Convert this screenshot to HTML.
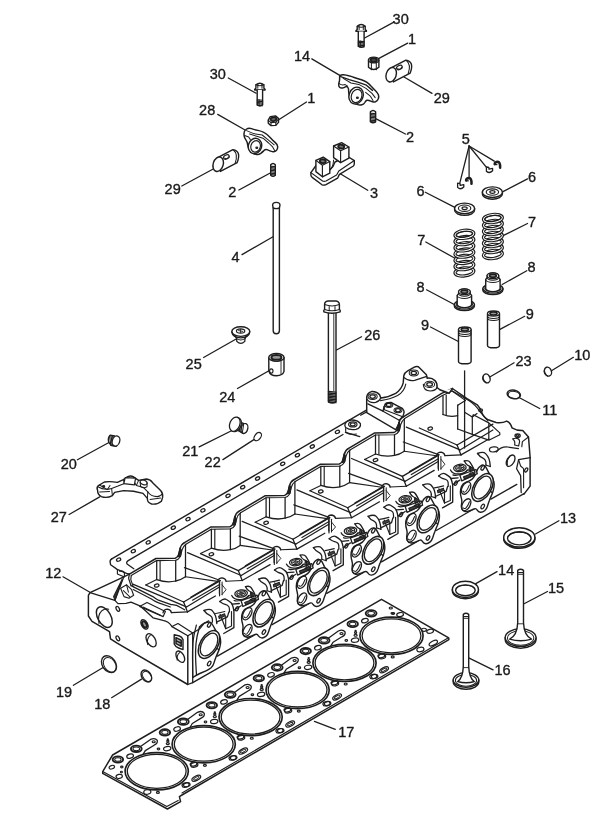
<!DOCTYPE html>
<html><head><meta charset="utf-8"><title>Cylinder head</title>
<style>
html,body{margin:0;padding:0;background:#fff;}
svg{display:block;will-change:transform;transform:translateZ(0);}
text{font-family:"Liberation Sans",sans-serif;font-size:14.5px;fill:#1a1a1a;stroke:#1a1a1a;stroke-width:0.35px;}
</style></head><body>
<svg width="603" height="823" viewBox="0 0 603 823" stroke-linecap="round" stroke-linejoin="round">
<rect width="603" height="823" fill="#fff"/>
<g opacity="0.999">
<text x="392.6" y="24.0">30</text>
<text x="408.0" y="43.9">1</text>
<text x="294.0" y="60.7">14</text>
<text x="433.8" y="102.6">29</text>
<text x="405.9" y="142.4">2</text>
<text x="209.7" y="79.0">30</text>
<text x="199.1" y="115.3">28</text>
<text x="307.2" y="102.6">1</text>
<text x="164.6" y="194.4">29</text>
<text x="228.2" y="197.1">2</text>
<text x="370.1" y="198.1">3</text>
<text x="416.6" y="196.1">6</text>
<text x="417.2" y="245.1">7</text>
<text x="461.7" y="143.5">5</text>
<text x="528.0" y="182.0">6</text>
<text x="528.0" y="226.6">7</text>
<text x="527.4" y="272.4">8</text>
<text x="416.4" y="292.1">8</text>
<text x="525.8" y="318.6">9</text>
<text x="421.0" y="330.0">9</text>
<text x="515.4" y="365.8">23</text>
<text x="574.2" y="359.8">10</text>
<text x="542.3" y="415.4">11</text>
<text x="231.4" y="262.1">4</text>
<text x="364.2" y="339.6">26</text>
<text x="185.6" y="369.4">25</text>
<text x="219.2" y="401.5">24</text>
<text x="182.2" y="455.8">21</text>
<text x="204.6" y="466.6">22</text>
<text x="60.7" y="468.8">20</text>
<text x="50.8" y="521.9">27</text>
<text x="45.3" y="578.0">12</text>
<text x="559.9" y="523.0">13</text>
<text x="498.1" y="574.7">14</text>
<text x="548.0" y="593.3">15</text>
<text x="494.4" y="674.7">16</text>
<text x="56.0" y="696.8">19</text>
<text x="94.2" y="708.5">18</text>
<text x="338.2" y="736.7">17</text>
</g>
<line x1="363.7" y1="38.5" x2="393.4" y2="22.4" stroke="#1e1e1e" stroke-width="1.28"/>
<line x1="378.0" y1="58.9" x2="407.7" y2="43.1" stroke="#1e1e1e" stroke-width="1.28"/>
<line x1="311.8" y1="58.9" x2="347.0" y2="79.6" stroke="#1e1e1e" stroke-width="1.28"/>
<line x1="404.0" y1="77.0" x2="432.0" y2="93.4" stroke="#1e1e1e" stroke-width="1.28"/>
<line x1="376.2" y1="118.9" x2="405.4" y2="134.0" stroke="#1e1e1e" stroke-width="1.28"/>
<line x1="228.3" y1="78.0" x2="256.1" y2="93.2" stroke="#1e1e1e" stroke-width="1.28"/>
<line x1="217.7" y1="114.4" x2="245.5" y2="130.3" stroke="#1e1e1e" stroke-width="1.28"/>
<line x1="278.7" y1="119.7" x2="306.5" y2="102.0" stroke="#1e1e1e" stroke-width="1.28"/>
<line x1="181.8" y1="186.0" x2="213.7" y2="168.8" stroke="#1e1e1e" stroke-width="1.28"/>
<line x1="270.7" y1="172.8" x2="238.9" y2="190.0" stroke="#1e1e1e" stroke-width="1.28"/>
<line x1="339.0" y1="173.0" x2="367.7" y2="190.3" stroke="#1e1e1e" stroke-width="1.28"/>
<line x1="425.3" y1="192.2" x2="455.3" y2="207.6" stroke="#1e1e1e" stroke-width="1.28"/>
<line x1="425.8" y1="242.0" x2="454.5" y2="258.0" stroke="#1e1e1e" stroke-width="1.28"/>
<line x1="469.1" y1="146.0" x2="459.8" y2="183.1" stroke="#1e1e1e" stroke-width="1.28"/>
<line x1="469.1" y1="146.0" x2="469.1" y2="177.0" stroke="#1e1e1e" stroke-width="1.28"/>
<line x1="469.1" y1="146.0" x2="486.3" y2="167.2" stroke="#1e1e1e" stroke-width="1.28"/>
<line x1="469.1" y1="146.0" x2="494.3" y2="161.1" stroke="#1e1e1e" stroke-width="1.28"/>
<line x1="503.0" y1="191.6" x2="527.5" y2="178.9" stroke="#1e1e1e" stroke-width="1.28"/>
<line x1="503.6" y1="235.4" x2="527.5" y2="223.5" stroke="#1e1e1e" stroke-width="1.28"/>
<line x1="502.2" y1="284.5" x2="526.8" y2="270.7" stroke="#1e1e1e" stroke-width="1.28"/>
<line x1="426.5" y1="289.8" x2="455.7" y2="305.2" stroke="#1e1e1e" stroke-width="1.28"/>
<line x1="499.5" y1="329.6" x2="524.7" y2="316.3" stroke="#1e1e1e" stroke-width="1.28"/>
<line x1="430.5" y1="327.0" x2="458.4" y2="341.5" stroke="#1e1e1e" stroke-width="1.28"/>
<line x1="490.2" y1="376.8" x2="514.1" y2="362.8" stroke="#1e1e1e" stroke-width="1.28"/>
<line x1="551.5" y1="370.8" x2="573.4" y2="357.3" stroke="#1e1e1e" stroke-width="1.28"/>
<line x1="519.5" y1="397.7" x2="539.7" y2="408.5" stroke="#1e1e1e" stroke-width="1.28"/>
<line x1="242.0" y1="254.6" x2="273.0" y2="236.8" stroke="#1e1e1e" stroke-width="1.28"/>
<line x1="336.0" y1="350.2" x2="361.5" y2="336.7" stroke="#1e1e1e" stroke-width="1.28"/>
<line x1="203.6" y1="357.5" x2="235.7" y2="339.3" stroke="#1e1e1e" stroke-width="1.28"/>
<line x1="237.5" y1="388.5" x2="268.5" y2="371.0" stroke="#1e1e1e" stroke-width="1.28"/>
<line x1="199.2" y1="446.9" x2="232.0" y2="430.5" stroke="#1e1e1e" stroke-width="1.28"/>
<line x1="222.9" y1="459.6" x2="253.9" y2="439.6" stroke="#1e1e1e" stroke-width="1.28"/>
<line x1="77.4" y1="459.8" x2="108.9" y2="442.5" stroke="#1e1e1e" stroke-width="1.28"/>
<line x1="69.1" y1="514.5" x2="99.7" y2="496.9" stroke="#1e1e1e" stroke-width="1.28"/>
<line x1="63.0" y1="576.8" x2="89.5" y2="592.0" stroke="#1e1e1e" stroke-width="1.28"/>
<line x1="535.5" y1="534.0" x2="558.9" y2="520.7" stroke="#1e1e1e" stroke-width="1.28"/>
<line x1="475.8" y1="583.6" x2="497.0" y2="571.6" stroke="#1e1e1e" stroke-width="1.28"/>
<line x1="523.6" y1="604.0" x2="547.5" y2="591.5" stroke="#1e1e1e" stroke-width="1.28"/>
<line x1="468.7" y1="657.9" x2="493.1" y2="669.8" stroke="#1e1e1e" stroke-width="1.28"/>
<line x1="73.4" y1="685.3" x2="102.7" y2="667.7" stroke="#1e1e1e" stroke-width="1.28"/>
<line x1="111.6" y1="697.7" x2="141.5" y2="679.1" stroke="#1e1e1e" stroke-width="1.28"/>
<line x1="314.4" y1="721.4" x2="335.3" y2="729.3" stroke="#1e1e1e" stroke-width="1.28"/>
<line x1="464.6" y1="370.8" x2="464.6" y2="448.0" stroke="#1e1e1e" stroke-width="1.28"/>
<path d="M357.2,26.2 Q361.2,23.0 365.2,26.2 L365.2,29.6 L366.4,30.6 L366.4,31.4 L356.0,31.4 L356.0,30.6 L357.2,29.6 Z" stroke="#1e1e1e" stroke-width="1.41" fill="#fff" />
<line x1="359.1" y1="25.6" x2="359.1" y2="29.6" stroke="#1e1e1e" stroke-width="1.02"/>
<line x1="363.3" y1="25.6" x2="363.3" y2="29.6" stroke="#1e1e1e" stroke-width="1.02"/>
<path d="M357.2,26.2 Q361.2,28.2 365.2,26.2" stroke="#1e1e1e" stroke-width="1.02" fill="none" />
<path d="M358.3,31.4 L358.3,46.3 Q361.2,48.5 364.1,46.3 L364.1,31.4" stroke="#1e1e1e" stroke-width="1.41" fill="#fff" />
<line x1="358.3" y1="41.1" x2="364.1" y2="41.6" stroke="#1e1e1e" stroke-width="1.15"/>
<line x1="358.3" y1="42.4" x2="364.1" y2="42.9" stroke="#1e1e1e" stroke-width="1.15"/>
<line x1="358.3" y1="43.8" x2="364.1" y2="44.3" stroke="#1e1e1e" stroke-width="1.15"/>
<line x1="358.3" y1="45.1" x2="364.1" y2="45.6" stroke="#1e1e1e" stroke-width="1.15"/>
<line x1="358.3" y1="46.5" x2="364.1" y2="47.0" stroke="#1e1e1e" stroke-width="1.15"/>
<line x1="360.3" y1="41.1" x2="360.3" y2="46.5" stroke="#1e1e1e" stroke-width="1.02"/>
<path d="M255.9,84.8 Q259.9,81.6 263.9,84.8 L263.9,88.2 L265.1,89.2 L265.1,90.0 L254.7,90.0 L254.7,89.2 L255.9,88.2 Z" stroke="#1e1e1e" stroke-width="1.41" fill="#fff" />
<line x1="257.8" y1="84.2" x2="257.8" y2="88.2" stroke="#1e1e1e" stroke-width="1.02"/>
<line x1="262.0" y1="84.2" x2="262.0" y2="88.2" stroke="#1e1e1e" stroke-width="1.02"/>
<path d="M255.9,84.8 Q259.9,86.8 263.9,84.8" stroke="#1e1e1e" stroke-width="1.02" fill="none" />
<path d="M257.2,90.0 L257.2,104.8 Q259.9,107.0 262.6,104.8 L262.6,90.0" stroke="#1e1e1e" stroke-width="1.41" fill="#fff" />
<line x1="257.2" y1="99.8" x2="262.6" y2="100.3" stroke="#1e1e1e" stroke-width="1.15"/>
<line x1="257.2" y1="101.1" x2="262.6" y2="101.6" stroke="#1e1e1e" stroke-width="1.15"/>
<line x1="257.2" y1="102.5" x2="262.6" y2="103.0" stroke="#1e1e1e" stroke-width="1.15"/>
<line x1="257.2" y1="103.8" x2="262.6" y2="104.3" stroke="#1e1e1e" stroke-width="1.15"/>
<line x1="257.2" y1="105.2" x2="262.6" y2="105.7" stroke="#1e1e1e" stroke-width="1.15"/>
<line x1="259.1" y1="99.8" x2="259.1" y2="105.0" stroke="#1e1e1e" stroke-width="1.02"/>
<path d="M368.5,60.0 L368.5,67.2 Q373.7,71.8 378.9,67.2 L378.9,60.0" stroke="#1e1e1e" stroke-width="1.41" fill="#fff" />
<ellipse cx="373.7" cy="60.0" rx="5.2" ry="2.9" stroke="#1e1e1e" stroke-width="1.41" fill="#fff"/>
<ellipse cx="373.7" cy="60.0" rx="3.2" ry="1.8" stroke="#1e1e1e" stroke-width="2.05" fill="#555"/>
<line x1="371.4" y1="62.6" x2="371.4" y2="69.8" stroke="#1e1e1e" stroke-width="1.02"/>
<line x1="376.3" y1="62.5" x2="376.3" y2="69.7" stroke="#1e1e1e" stroke-width="1.02"/>
<path d="M268.2,120.2 L270.3,116.6 L275.5,115.9 L278.6,118.6 L278.5,122.4 L275.8,125.4 L271,125.6 L268.3,123.2 Z" stroke="#1e1e1e" stroke-width="1.41" fill="#fff" />
<path d="M268.4,120.4 L271,122.6 L275.8,122.3 L278.5,119" stroke="#1e1e1e" stroke-width="1.15" fill="none" />
<line x1="271.0" y1="122.6" x2="271.0" y2="125.6" stroke="#1e1e1e" stroke-width="1.02"/>
<line x1="275.8" y1="122.3" x2="275.8" y2="125.4" stroke="#1e1e1e" stroke-width="1.02"/>
<ellipse cx="273.5" cy="119.2" rx="2.9" ry="1.9" stroke="#1e1e1e" stroke-width="1.79" fill="#666" transform="rotate(-10 273.5 119.2)"/>
<path d="M339.6,77.7 Q339.3,76.2 340.4,75.3 Q341.5,74.5 343.6,74.7 Q345.8,74.9 348.8,75.8 Q351.8,76.6 354.9,77.7 Q357.9,78.8 361.4,79.8 Q364.8,80.9 367.0,82.4 Q369.1,83.9 371.2,86.3 Q373.4,88.7 375.5,90.8 Q377.7,93.0 378.4,94.7 Q379.0,96.4 378.4,98.6 Q377.7,100.8 375.5,101.7 Q373.4,102.5 370.8,101.2 Q368.2,99.9 366.9,100.3 Q365.6,100.8 364.8,102.5 Q363.9,104.2 361.8,104.8 Q359.6,105.5 357.0,104.4 Q354.4,103.3 352.2,100.8 Q350.1,98.2 349.2,95.2 Q348.4,92.1 348.6,90.4 Q348.8,88.7 347.8,87.4 Q346.7,86.1 345.4,86.9 Q344.1,87.8 342.4,88.0 Q340.6,88.3 339.6,87.2 Q338.5,86.1 338.7,84.4 Q338.9,82.7 339.4,81.0 Q339.8,79.2 339.6,77.7 Z" stroke="#1e1e1e" stroke-width="1.47" fill="#fff" />
<path d="M340.6,76.6 L349.2,79.6 L357.8,82.2 L366.4,85.2 L372.5,90.4" stroke="#1e1e1e" stroke-width="1.41" fill="none" />
<path d="M343.2,78.4 L351.0,83.0 L358.8,84.4 L366.0,88.4 L372.0,93.4 L375.2,97.6" stroke="#1e1e1e" stroke-width="1.02" fill="none" />
<path d="M339.2,83.6 Q341.6,85.6 345.2,84.6 L347.6,86.2" stroke="#1e1e1e" stroke-width="1.02" fill="none" />
<path d="M365.6,92.4 L370.6,96.4 L373.0,100.6" stroke="#1e1e1e" stroke-width="1.02" fill="none" />
<ellipse cx="356.1" cy="95.6" rx="7.0" ry="8.6" stroke="#1e1e1e" stroke-width="1.41" fill="#fff" transform="rotate(20 356.1 95.6)"/>
<ellipse cx="356.6" cy="96.0" rx="5.2" ry="6.8" stroke="#1e1e1e" stroke-width="1.15" fill="none" transform="rotate(20 356.6 96.0)"/>
<ellipse cx="357.4" cy="97.8" rx="1.0" ry="0.8" stroke="#1e1e1e" stroke-width="1.02" fill="#444"/>
<path d="M244.2,132.2 Q244.5,130.4 246.6,129.0 Q248.7,127.6 251.5,128.6 Q254.3,129.7 257.9,130.4 Q261.4,131.1 264.2,132.6 Q267.0,134.0 269.9,137.2 Q272.7,140.3 275.1,142.4 Q277.6,144.5 277.7,146.7 Q277.8,148.8 276.3,150.6 Q274.8,152.3 272.3,151.6 Q269.8,150.9 267.7,149.9 Q265.6,148.8 263.9,150.6 Q262.1,152.3 260.4,153.7 Q258.6,155.1 255.8,154.4 Q252.9,153.7 250.4,150.9 Q248.0,148.1 247.7,144.9 Q247.3,141.7 245.9,139.9 Q244.5,138.2 244.2,136.1 Q243.8,134.0 244.2,132.2 Z" stroke="#1e1e1e" stroke-width="1.47" fill="#fff" />
<path d="M246.6,130.6 L253.6,133.6 L262.2,135.0 L268.2,139.8 L274.2,144.8" stroke="#1e1e1e" stroke-width="1.02" fill="none" />
<path d="M249.6,134.0 L257.6,136.6 L263.6,138.6 L268.6,143.0 L272.4,146.6 L274.6,150.6" stroke="#1e1e1e" stroke-width="1.02" fill="none" />
<path d="M244.6,135.6 L248.6,137.0 L250.4,139.6" stroke="#1e1e1e" stroke-width="1.02" fill="none" />
<ellipse cx="255.0" cy="146.0" rx="6.6" ry="7.8" stroke="#1e1e1e" stroke-width="1.41" fill="#fff" transform="rotate(18 255.0 146.0)"/>
<ellipse cx="255.6" cy="146.4" rx="4.7" ry="5.8" stroke="#1e1e1e" stroke-width="1.15" fill="none" transform="rotate(18 255.6 146.4)"/>
<ellipse cx="256.8" cy="147.8" rx="1.0" ry="0.8" stroke="#1e1e1e" stroke-width="1.02" fill="#444"/>
<path d="M392.0,67.3 L405.9,60.1 Q414.6,61.5 410.2,73.1 L393.4,81.9 Z" stroke="#1e1e1e" stroke-width="1.41" fill="#fff" />
<ellipse cx="391.2" cy="74.7" rx="5.0" ry="7.4" stroke="#1e1e1e" stroke-width="1.41" fill="#fff" transform="rotate(18 391.2 74.7)"/>
<ellipse cx="399.4" cy="67.5" rx="3.0" ry="2.0" stroke="#1e1e1e" stroke-width="1.15" fill="none" transform="rotate(-25 399.4 67.5)"/>
<path d="M397.7,68.7 Q399.4,70.3 401.8,67.2" stroke="#1e1e1e" stroke-width="1.02" fill="none" />
<path d="M406.4,60.5 Q411.4,64.5 408.2,73.5" stroke="#1e1e1e" stroke-width="1.02" fill="none" />
<path d="M219.0,156.8 L232.9,149.6 Q241.6,151.0 237.2,162.6 L220.4,171.4 Z" stroke="#1e1e1e" stroke-width="1.41" fill="#fff" />
<ellipse cx="218.2" cy="164.2" rx="5.0" ry="7.4" stroke="#1e1e1e" stroke-width="1.41" fill="#fff" transform="rotate(18 218.2 164.2)"/>
<ellipse cx="226.4" cy="157.0" rx="3.0" ry="2.0" stroke="#1e1e1e" stroke-width="1.15" fill="none" transform="rotate(-25 226.4 157.0)"/>
<path d="M224.7,158.2 Q226.4,159.8 228.8,156.7" stroke="#1e1e1e" stroke-width="1.02" fill="none" />
<path d="M233.4,150.0 Q238.4,154.0 235.2,163.0" stroke="#1e1e1e" stroke-width="1.02" fill="none" />
<path d="M370.4,111.8 Q373.0,109.2 375.6,111.8 L375.6,121.6 Q373.0,123.8 370.4,121.6 Z" stroke="#1e1e1e" stroke-width="1.41" fill="#fff" />
<line x1="370.4" y1="113.2" x2="375.6" y2="113.6" stroke="#1e1e1e" stroke-width="1.15"/>
<line x1="370.4" y1="114.6" x2="375.6" y2="115.0" stroke="#1e1e1e" stroke-width="1.15"/>
<line x1="370.4" y1="116.0" x2="375.6" y2="116.4" stroke="#1e1e1e" stroke-width="1.15"/>
<line x1="370.4" y1="117.4" x2="375.6" y2="117.8" stroke="#1e1e1e" stroke-width="1.15"/>
<line x1="370.4" y1="118.8" x2="375.6" y2="119.2" stroke="#1e1e1e" stroke-width="1.15"/>
<line x1="370.4" y1="120.2" x2="375.6" y2="120.6" stroke="#1e1e1e" stroke-width="1.15"/>
<line x1="370.4" y1="121.6" x2="375.6" y2="122.0" stroke="#1e1e1e" stroke-width="1.15"/>
<path d="M270.7,164.8 Q273.0,162.2 275.3,164.8 L275.3,175.2 Q273.0,177.4 270.7,175.2 Z" stroke="#1e1e1e" stroke-width="1.41" fill="#fff" />
<line x1="270.7" y1="166.2" x2="275.3" y2="166.6" stroke="#1e1e1e" stroke-width="1.15"/>
<line x1="270.7" y1="167.6" x2="275.3" y2="168.0" stroke="#1e1e1e" stroke-width="1.15"/>
<line x1="270.7" y1="169.0" x2="275.3" y2="169.4" stroke="#1e1e1e" stroke-width="1.15"/>
<line x1="270.7" y1="170.4" x2="275.3" y2="170.8" stroke="#1e1e1e" stroke-width="1.15"/>
<line x1="270.7" y1="171.8" x2="275.3" y2="172.2" stroke="#1e1e1e" stroke-width="1.15"/>
<line x1="270.7" y1="173.2" x2="275.3" y2="173.6" stroke="#1e1e1e" stroke-width="1.15"/>
<line x1="270.7" y1="174.6" x2="275.3" y2="175.0" stroke="#1e1e1e" stroke-width="1.15"/>
<path d="M310.9,172.6 L310.9,175.2 Q311,176.6 312.5,177.6 L322,184.8 Q323.8,185.6 326,184.6 L337.6,178.2 L339.4,174.4 L353.4,166 Q354.4,165 354.3,163.4 L354.3,160.6 L347,156 L335,162 L333,166.5 L330,169.5 L316,165.5 Z" stroke="#1e1e1e" stroke-width="1.41" fill="#fff" />
<path d="M310.9,172.6 L322.6,181 Q324,181.8 326,181 L336.6,175 L338.8,171 L354.3,160.6" stroke="#1e1e1e" stroke-width="1.15" fill="none" />
<path d="M315.9,160.4 L315.9,171.6 L322.4,176.8 L329.8,173.2 L329.8,161.6 L323.2,157.2 Z" stroke="#1e1e1e" stroke-width="1.41" fill="#fff" />
<path d="M315.9,160.4 L322.4,165.2 L329.8,161.6 M322.4,165.2 L322.4,176.8" stroke="#1e1e1e" stroke-width="1.15" fill="none" />
<ellipse cx="322.8" cy="161.2" rx="3.0" ry="1.9" stroke="#1e1e1e" stroke-width="1.92" fill="#777" transform="rotate(8 322.8 161.2)"/>
<path d="M333.6,146 L333.6,157.6 L340.6,162.6 L348.9,158.2 L348.9,147 L341.6,142.6 Z" stroke="#1e1e1e" stroke-width="1.41" fill="#fff" />
<path d="M333.6,146 L340.6,150.8 L348.9,147 M340.6,150.8 L340.6,162.6" stroke="#1e1e1e" stroke-width="1.15" fill="none" />
<ellipse cx="341.2" cy="146.6" rx="3.0" ry="1.9" stroke="#1e1e1e" stroke-width="1.92" fill="#777" transform="rotate(8 341.2 146.6)"/>
<path d="M329.8,170 Q333,168 333.6,160" stroke="#1e1e1e" stroke-width="1.02" fill="none" />
<path d="M457.6,183.2 L457.6,187.4 Q460.6,190.2 463.8,187.0 L463.8,184.6 M457.6,183.2 L460.0,183.6 L460.2,185.4 L463.8,184.6" stroke="#1e1e1e" stroke-width="1.28" fill="none" />
<path d="M466.1,180.4 Q466.3,178.0 469.1,178.0 Q471.7,178.2 471.5,183.8" stroke="#1e1e1e" stroke-width="2.56" fill="none" />
<line x1="466.1" y1="180.6" x2="468.3" y2="180.8" stroke="#1e1e1e" stroke-width="1.28"/>
<path d="M486.4,167.0 L486.4,171.2 Q489.4,174.0 492.6,170.8 L492.6,168.4 M486.4,167.0 L488.8,167.4 L489.0,169.2 L492.6,168.4" stroke="#1e1e1e" stroke-width="1.28" fill="none" />
<path d="M494.7,164.2 Q494.9,161.8 497.7,161.8 Q500.3,162.0 500.1,167.6" stroke="#1e1e1e" stroke-width="2.56" fill="none" />
<line x1="494.7" y1="164.4" x2="496.9" y2="164.6" stroke="#1e1e1e" stroke-width="1.28"/>
<path d="M482.4,192.2 L482.4,193.8 A10,5.4 0 0 0 502.4,193.8 L502.4,192.2" stroke="#1e1e1e" stroke-width="1.41" fill="#fff" />
<ellipse cx="492.4" cy="192.2" rx="10.0" ry="5.3" stroke="#1e1e1e" stroke-width="1.41" fill="#fff"/>
<ellipse cx="492.4" cy="192.0" rx="6.2" ry="3.2" stroke="#1e1e1e" stroke-width="1.15" fill="none"/>
<ellipse cx="492.4" cy="192.0" rx="2.6" ry="1.4" stroke="#1e1e1e" stroke-width="1.15" fill="none"/>
<path d="M454.6,208.4 L454.6,210.0 A10,5.4 0 0 0 474.6,210.0 L474.6,208.4" stroke="#1e1e1e" stroke-width="1.41" fill="#fff" />
<ellipse cx="464.6" cy="208.4" rx="10.0" ry="5.3" stroke="#1e1e1e" stroke-width="1.41" fill="#fff"/>
<ellipse cx="464.6" cy="208.2" rx="6.2" ry="3.2" stroke="#1e1e1e" stroke-width="1.15" fill="none"/>
<ellipse cx="464.6" cy="208.2" rx="2.6" ry="1.4" stroke="#1e1e1e" stroke-width="1.15" fill="none"/>
<ellipse cx="492.9" cy="254.5" rx="9.5" ry="4.0" stroke="#1e1e1e" stroke-width="3.20" fill="none" transform="rotate(-7 492.9 254.5)"/>
<ellipse cx="492.9" cy="254.5" rx="9.5" ry="4.0" stroke="#fff" stroke-width="0.96" fill="none" transform="rotate(-7 492.9 254.5)"/>
<ellipse cx="492.9" cy="248.5" rx="9.5" ry="4.0" stroke="#1e1e1e" stroke-width="3.20" fill="none" transform="rotate(-7 492.9 248.5)"/>
<ellipse cx="492.9" cy="248.5" rx="9.5" ry="4.0" stroke="#fff" stroke-width="0.96" fill="none" transform="rotate(-7 492.9 248.5)"/>
<ellipse cx="492.9" cy="242.5" rx="9.5" ry="4.0" stroke="#1e1e1e" stroke-width="3.20" fill="none" transform="rotate(-7 492.9 242.5)"/>
<ellipse cx="492.9" cy="242.5" rx="9.5" ry="4.0" stroke="#fff" stroke-width="0.96" fill="none" transform="rotate(-7 492.9 242.5)"/>
<ellipse cx="492.9" cy="236.5" rx="9.5" ry="4.0" stroke="#1e1e1e" stroke-width="3.20" fill="none" transform="rotate(-7 492.9 236.5)"/>
<ellipse cx="492.9" cy="236.5" rx="9.5" ry="4.0" stroke="#fff" stroke-width="0.96" fill="none" transform="rotate(-7 492.9 236.5)"/>
<ellipse cx="492.9" cy="230.5" rx="9.5" ry="4.0" stroke="#1e1e1e" stroke-width="3.20" fill="none" transform="rotate(-7 492.9 230.5)"/>
<ellipse cx="492.9" cy="230.5" rx="9.5" ry="4.0" stroke="#fff" stroke-width="0.96" fill="none" transform="rotate(-7 492.9 230.5)"/>
<ellipse cx="492.9" cy="224.5" rx="9.5" ry="4.0" stroke="#1e1e1e" stroke-width="3.20" fill="none" transform="rotate(-7 492.9 224.5)"/>
<ellipse cx="492.9" cy="224.5" rx="9.5" ry="4.0" stroke="#fff" stroke-width="0.96" fill="none" transform="rotate(-7 492.9 224.5)"/>
<ellipse cx="492.9" cy="218.5" rx="9.5" ry="4.0" stroke="#1e1e1e" stroke-width="3.20" fill="none" transform="rotate(-7 492.9 218.5)"/>
<ellipse cx="492.9" cy="218.5" rx="9.5" ry="4.0" stroke="#fff" stroke-width="0.96" fill="none" transform="rotate(-7 492.9 218.5)"/>
<ellipse cx="492.9" cy="218.3" rx="7.9" ry="2.7" stroke="#1e1e1e" stroke-width="1.02" fill="none" transform="rotate(-7 492.9 218.3)"/>
<ellipse cx="464.4" cy="271.9" rx="9.5" ry="4.0" stroke="#1e1e1e" stroke-width="3.20" fill="none" transform="rotate(-7 464.4 271.9)"/>
<ellipse cx="464.4" cy="271.9" rx="9.5" ry="4.0" stroke="#fff" stroke-width="0.96" fill="none" transform="rotate(-7 464.4 271.9)"/>
<ellipse cx="464.4" cy="265.6" rx="9.5" ry="4.0" stroke="#1e1e1e" stroke-width="3.20" fill="none" transform="rotate(-7 464.4 265.6)"/>
<ellipse cx="464.4" cy="265.6" rx="9.5" ry="4.0" stroke="#fff" stroke-width="0.96" fill="none" transform="rotate(-7 464.4 265.6)"/>
<ellipse cx="464.4" cy="259.4" rx="9.5" ry="4.0" stroke="#1e1e1e" stroke-width="3.20" fill="none" transform="rotate(-7 464.4 259.4)"/>
<ellipse cx="464.4" cy="259.4" rx="9.5" ry="4.0" stroke="#fff" stroke-width="0.96" fill="none" transform="rotate(-7 464.4 259.4)"/>
<ellipse cx="464.4" cy="253.1" rx="9.5" ry="4.0" stroke="#1e1e1e" stroke-width="3.20" fill="none" transform="rotate(-7 464.4 253.1)"/>
<ellipse cx="464.4" cy="253.1" rx="9.5" ry="4.0" stroke="#fff" stroke-width="0.96" fill="none" transform="rotate(-7 464.4 253.1)"/>
<ellipse cx="464.4" cy="246.8" rx="9.5" ry="4.0" stroke="#1e1e1e" stroke-width="3.20" fill="none" transform="rotate(-7 464.4 246.8)"/>
<ellipse cx="464.4" cy="246.8" rx="9.5" ry="4.0" stroke="#fff" stroke-width="0.96" fill="none" transform="rotate(-7 464.4 246.8)"/>
<ellipse cx="464.4" cy="240.6" rx="9.5" ry="4.0" stroke="#1e1e1e" stroke-width="3.20" fill="none" transform="rotate(-7 464.4 240.6)"/>
<ellipse cx="464.4" cy="240.6" rx="9.5" ry="4.0" stroke="#fff" stroke-width="0.96" fill="none" transform="rotate(-7 464.4 240.6)"/>
<ellipse cx="464.4" cy="234.3" rx="9.5" ry="4.0" stroke="#1e1e1e" stroke-width="3.20" fill="none" transform="rotate(-7 464.4 234.3)"/>
<ellipse cx="464.4" cy="234.3" rx="9.5" ry="4.0" stroke="#fff" stroke-width="0.96" fill="none" transform="rotate(-7 464.4 234.3)"/>
<ellipse cx="464.4" cy="234.1" rx="7.9" ry="2.7" stroke="#1e1e1e" stroke-width="1.02" fill="none" transform="rotate(-7 464.4 234.1)"/>
<path d="M482.9,288.6 L482.9,290.0 A10,4.6 0 0 0 502.9,290.0 L502.9,288.6" stroke="#1e1e1e" stroke-width="1.41" fill="#fff" />
<ellipse cx="492.9" cy="288.6" rx="10.0" ry="4.5" stroke="#1e1e1e" stroke-width="1.41" fill="#fff"/>
<ellipse cx="492.9" cy="288.2" rx="8.2" ry="3.6" stroke="#1e1e1e" stroke-width="1.02" fill="none"/>
<path d="M485.7,288.4 L485.7,279.4 L487.1,277.6 L487.1,275.8 A5.8,2.9 0 0 1 498.7,275.8 L498.7,277.6 L500.1,279.4 L500.1,288.4 A7.2,3.2 0 0 1 485.7,288.4" stroke="#1e1e1e" stroke-width="1.41" fill="#fff" />
<ellipse cx="492.9" cy="275.8" rx="5.8" ry="2.9" stroke="#1e1e1e" stroke-width="1.28" fill="#fff"/>
<ellipse cx="492.9" cy="275.8" rx="3.4" ry="1.6" stroke="#1e1e1e" stroke-width="1.66" fill="#888"/>
<path d="M487.1,277.6 A5.8,2.6 0 0 0 498.7,277.6" stroke="#1e1e1e" stroke-width="1.02" fill="none" />
<path d="M485.7,279.4 A7.2,3 0 0 0 500.1,279.4" stroke="#1e1e1e" stroke-width="1.02" fill="none" />
<path d="M454.4,304.6 L454.4,306.0 A10,4.6 0 0 0 474.4,306.0 L474.4,304.6" stroke="#1e1e1e" stroke-width="1.41" fill="#fff" />
<ellipse cx="464.4" cy="304.6" rx="10.0" ry="4.5" stroke="#1e1e1e" stroke-width="1.41" fill="#fff"/>
<ellipse cx="464.4" cy="304.2" rx="8.2" ry="3.6" stroke="#1e1e1e" stroke-width="1.02" fill="none"/>
<path d="M457.2,304.4 L457.2,295.4 L458.6,293.6 L458.6,291.8 A5.8,2.9 0 0 1 470.2,291.8 L470.2,293.6 L471.6,295.4 L471.6,304.4 A7.2,3.2 0 0 1 457.2,304.4" stroke="#1e1e1e" stroke-width="1.41" fill="#fff" />
<ellipse cx="464.4" cy="291.8" rx="5.8" ry="2.9" stroke="#1e1e1e" stroke-width="1.28" fill="#fff"/>
<ellipse cx="464.4" cy="291.8" rx="3.4" ry="1.6" stroke="#1e1e1e" stroke-width="1.66" fill="#888"/>
<path d="M458.6,293.6 A5.8,2.6 0 0 0 470.2,293.6" stroke="#1e1e1e" stroke-width="1.02" fill="none" />
<path d="M457.2,295.4 A7.2,3 0 0 0 471.6,295.4" stroke="#1e1e1e" stroke-width="1.02" fill="none" />
<path d="M487.5,313.6 L487.5,345.4 A6.0,2.4 0 0 0 499.5,345.4 L499.5,313.6" stroke="#1e1e1e" stroke-width="1.41" fill="#fff" />
<ellipse cx="493.5" cy="313.6" rx="6.0" ry="2.6" stroke="#1e1e1e" stroke-width="1.28" fill="#fff"/>
<ellipse cx="493.5" cy="313.6" rx="3.6" ry="1.5" stroke="#1e1e1e" stroke-width="1.54" fill="#999"/>
<path d="M487.5,316.0 A6.0,2.4 0 0 0 499.5,316.0" stroke="#1e1e1e" stroke-width="1.02" fill="none" />
<path d="M487.5,318.0 A6.0,2.4 0 0 0 499.5,318.0" stroke="#1e1e1e" stroke-width="1.02" fill="none" />
<path d="M458.5,329.6 L458.5,361.4 A6.3,2.4 0 0 0 471.1,361.4 L471.1,329.6" stroke="#1e1e1e" stroke-width="1.41" fill="#fff" />
<ellipse cx="464.8" cy="329.6" rx="6.3" ry="2.6" stroke="#1e1e1e" stroke-width="1.28" fill="#fff"/>
<ellipse cx="464.8" cy="329.6" rx="3.6" ry="1.5" stroke="#1e1e1e" stroke-width="1.54" fill="#999"/>
<path d="M458.5,332.0 A6.3,2.4 0 0 0 471.1,332.0" stroke="#1e1e1e" stroke-width="1.02" fill="none" />
<path d="M458.5,334.0 A6.3,2.4 0 0 0 471.1,334.0" stroke="#1e1e1e" stroke-width="1.02" fill="none" />
<ellipse cx="486.6" cy="378.4" rx="3.4" ry="4.6" stroke="#1e1e1e" stroke-width="1.41" fill="#fff" transform="rotate(-20 486.6 378.4)"/>
<path d="M483.4,375.8 Q481.2,379.8 486.2,383.0" stroke="#1e1e1e" stroke-width="1.15" fill="none" />
<ellipse cx="548.0" cy="371.6" rx="3.4" ry="4.6" stroke="#1e1e1e" stroke-width="1.41" fill="#fff" transform="rotate(-20 548.0 371.6)"/>
<path d="M544.8,369.0 Q542.6,373.0 547.6,376.2" stroke="#1e1e1e" stroke-width="1.15" fill="none" />
<ellipse cx="513.8" cy="394.4" rx="6.7" ry="4.3" stroke="#1e1e1e" stroke-width="1.41" fill="none" transform="rotate(12 513.8 394.4)"/>
<ellipse cx="514.0" cy="394.9" rx="5.8" ry="3.5" stroke="#1e1e1e" stroke-width="1.02" fill="none" transform="rotate(12 514.0 394.9)"/>
<path d="M273.2,207.6 L273.2,330.8 Q273.2,333.8 276.3,333.8 Q279.4,333.8 279.4,330.8 L279.4,207.6" stroke="#1e1e1e" stroke-width="1.41" fill="#fff" />
<path d="M272.6,205.2 Q272.6,202.4 276.3,202.4 Q280,202.4 280,205.2 L279.4,207.8 Q276.3,209.4 273.2,207.8 Z" stroke="#1e1e1e" stroke-width="1.41" fill="#fff" />
<path d="M328.4,312.4 L328.4,401.6 Q332.2,404.4 336,401.6 L336,312.4" stroke="#1e1e1e" stroke-width="1.41" fill="#fff" />
<line x1="328.4" y1="391.5" x2="336.0" y2="392.1" stroke="#1e1e1e" stroke-width="1.28"/>
<line x1="328.4" y1="393.0" x2="336.0" y2="393.6" stroke="#1e1e1e" stroke-width="1.28"/>
<line x1="328.4" y1="394.5" x2="336.0" y2="395.1" stroke="#1e1e1e" stroke-width="1.28"/>
<line x1="328.4" y1="396.0" x2="336.0" y2="396.6" stroke="#1e1e1e" stroke-width="1.28"/>
<line x1="328.4" y1="397.5" x2="336.0" y2="398.1" stroke="#1e1e1e" stroke-width="1.28"/>
<line x1="328.4" y1="399.0" x2="336.0" y2="399.6" stroke="#1e1e1e" stroke-width="1.28"/>
<line x1="328.4" y1="400.5" x2="336.0" y2="401.1" stroke="#1e1e1e" stroke-width="1.28"/>
<line x1="328.4" y1="402.0" x2="336.0" y2="402.6" stroke="#1e1e1e" stroke-width="1.28"/>
<line x1="333.8" y1="313.0" x2="333.8" y2="391.0" stroke="#1e1e1e" stroke-width="0.90"/>
<path d="M324.6,304.6 Q324.4,301.6 328,301.0 L336,301.0 Q339.4,301.6 339.4,304.6 L339.4,309.4 L340.2,310.4 L340.2,311.8 Q332,314.6 323.8,311.8 L323.8,310.4 L324.6,309.4 Z" stroke="#1e1e1e" stroke-width="1.41" fill="#fff" />
<path d="M324.6,304.6 Q332,307.4 339.4,304.6 M329.2,306 L329.2,311 M335,306 L335,311 M324.6,309.4 Q332,312 339.4,309.4" stroke="#1e1e1e" stroke-width="1.02" fill="none" />
<path d="M235.0,335.4 L236.6,338.6 L236.8,341.4 Q240.8,345.4 244.8,341.4 L245.0,338.6 L246.6,335.4" stroke="#1e1e1e" stroke-width="1.28" fill="#fff" />
<path d="M236.6,338.6 Q240.8,341.4 245.0,338.6" stroke="#1e1e1e" stroke-width="1.02" fill="none" />
<ellipse cx="240.8" cy="331.6" rx="9.0" ry="4.8" stroke="#1e1e1e" stroke-width="1.41" fill="#fff"/>
<path d="M231.8,331.8 Q232.6,337.6 240.8,337.8 Q249.0,337.6 249.8,331.8" stroke="#1e1e1e" stroke-width="1.28" fill="none" />
<ellipse cx="240.6" cy="331.0" rx="4.2" ry="2.2" stroke="#1e1e1e" stroke-width="1.15" fill="none"/>
<line x1="238.6" y1="330.6" x2="242.8" y2="331.4" stroke="#1e1e1e" stroke-width="0.90"/>
<line x1="240.6" y1="329.4" x2="240.6" y2="332.6" stroke="#1e1e1e" stroke-width="0.90"/>
<path d="M268.8,357.4 L268.8,371.0 Q270.2,375.8 276.4,375.8 Q282.8,375.6 284.0,371.4 L284.0,357.4" stroke="#1e1e1e" stroke-width="1.41" fill="#fff" />
<ellipse cx="276.4" cy="357.4" rx="7.6" ry="4.0" stroke="#1e1e1e" stroke-width="1.41" fill="#fff"/>
<ellipse cx="276.4" cy="357.4" rx="5.0" ry="2.4" stroke="#1e1e1e" stroke-width="2.05" fill="#999"/>
<ellipse cx="271.3" cy="371.0" rx="1.7" ry="2.1" stroke="#1e1e1e" stroke-width="1.15" fill="none"/>
<line x1="281.0" y1="360.8" x2="281.0" y2="374.0" stroke="#1e1e1e" stroke-width="0.90"/>
<path d="M238.4,421.4 L246.4,424.6 Q248.8,428.6 246.2,432.2 L243.6,433.6 L236.6,429.8 Z" stroke="#1e1e1e" stroke-width="1.28" fill="#fff" />
<ellipse cx="244.4" cy="428.4" rx="3.3" ry="5.0" stroke="#1e1e1e" stroke-width="1.22" fill="#fff" transform="rotate(18 244.4 428.4)"/>
<line x1="239.2" y1="422.0" x2="237.8" y2="430.4" stroke="#1e1e1e" stroke-width="1.02"/>
<line x1="240.7" y1="422.6" x2="239.3" y2="431.2" stroke="#1e1e1e" stroke-width="1.02"/>
<line x1="242.2" y1="423.2" x2="240.8" y2="432.0" stroke="#1e1e1e" stroke-width="1.02"/>
<line x1="243.7" y1="423.8" x2="242.3" y2="432.8" stroke="#1e1e1e" stroke-width="1.02"/>
<ellipse cx="236.0" cy="424.6" rx="5.0" ry="7.4" stroke="#1e1e1e" stroke-width="1.28" fill="#fff" transform="rotate(22 236.0 424.6)"/>
<ellipse cx="234.8" cy="424.2" rx="5.0" ry="7.4" stroke="#1e1e1e" stroke-width="1.28" fill="#fff" transform="rotate(22 234.8 424.2)"/>
<ellipse cx="257.7" cy="436.6" rx="4.7" ry="3.0" stroke="#1e1e1e" stroke-width="1.22" fill="none" transform="rotate(-52 257.7 436.6)"/>
<path d="M114.6,436.0 L110.2,435.2 Q107.8,437.4 108.4,441.0 Q109.2,444.4 111.8,445.6 L116.6,446.2" stroke="#1e1e1e" stroke-width="1.28" fill="#fff" />
<line x1="109.6" y1="435.8" x2="110.8" y2="445.4" stroke="#1e1e1e" stroke-width="1.15"/>
<line x1="111.1" y1="436.0" x2="112.3" y2="445.6" stroke="#1e1e1e" stroke-width="1.15"/>
<line x1="112.6" y1="436.2" x2="113.8" y2="445.9" stroke="#1e1e1e" stroke-width="1.15"/>
<line x1="114.1" y1="436.4" x2="115.3" y2="446.1" stroke="#1e1e1e" stroke-width="1.15"/>
<ellipse cx="116.0" cy="441.0" rx="3.7" ry="5.2" stroke="#1e1e1e" stroke-width="1.34" fill="#fff" transform="rotate(18 116.0 441.0)"/>
<path d="M97.6,490.4 Q96.2,487.6 98.4,485.6 L104.4,482.0 Q110,481 117.4,482.4 L123.4,479.6 L127.8,476.6 Q131,475.4 133.4,476.8 L138.6,480.4 L146.4,479.0 Q150.6,479.4 152.4,482.4 L160.6,490.6 Q163.2,493.4 162.6,497.4 L161.4,501.2 Q157.4,504.8 151.6,504.0 Q147,502.6 147.4,498.4 L143,493.4 L133.6,491.2 L123.6,490.6 L114.6,492.4 L112.4,495.6 Q107,498.6 101.4,496.6 Q97.6,494.4 97.6,490.4 Z" stroke="#1e1e1e" stroke-width="1.41" fill="#fff" />
<path d="M98.4,487.0 Q104,490.6 111.6,488.4 L118,486 L124.4,483.4 L128.6,480.6 L133.6,481.4 L136.4,485.4 L143.6,487.6 L147.8,491.8 Q150.6,496.6 157.4,496.6 Q161.4,495.6 162.4,493.4" stroke="#1e1e1e" stroke-width="1.09" fill="none" />
<path d="M111.6,488.4 L112.4,495.6 M147.8,491.8 L147.4,498.4 M123.4,479.6 L124.4,483.4 M133.4,476.8 L133.6,481.4 M138.6,480.4 L136.4,485.4" stroke="#1e1e1e" stroke-width="1.02" fill="none" />
<path d="M125.2,477.6 L135.6,478.2 L134.4,484.8 L123.8,483.6 Z" stroke="#1e1e1e" stroke-width="1.22" fill="#fff" />
<path d="M99.4,485.0 L107.4,489.6 L110.0,485.4" stroke="#1e1e1e" stroke-width="1.02" fill="none" />
<ellipse cx="143.6" cy="482.4" rx="3.6" ry="2.2" stroke="#1e1e1e" stroke-width="1.15" fill="none" transform="rotate(20 143.6 482.4)"/>
<path d="M140.2,482.8 L140.6,486.6 Q143.6,488.8 147,486.8 L147.2,483" stroke="#1e1e1e" stroke-width="1.02" fill="none" />
<ellipse cx="103.6" cy="486.4" rx="1.0" ry="0.8" stroke="#1e1e1e" stroke-width="1.28" fill="#333"/>
<line x1="99.6" y1="492.0" x2="109.6" y2="491.4" stroke="#1e1e1e" stroke-width="1.02"/>
<line x1="150.0" y1="499.4" x2="160.6" y2="498.0" stroke="#1e1e1e" stroke-width="1.02"/>
<path d="M503.7,537.4 L503.7,538.7 A15.6,9.6 0 0 0 534.9,538.7 L534.9,537.4" stroke="#1e1e1e" stroke-width="1.47" fill="#fff" />
<ellipse cx="519.3" cy="537.4" rx="15.6" ry="9.6" stroke="#1e1e1e" stroke-width="1.47" fill="#fff"/>
<ellipse cx="519.3" cy="538.3" rx="11.8" ry="6.6" stroke="#1e1e1e" stroke-width="1.41" fill="none"/>
<path d="M508.1,536.8 A11.8,6.6 0 0 1 530.5,536.8" stroke="#1e1e1e" stroke-width="1.02" fill="none" />
<path d="M452.4,589.4 L452.4,590.7 A13.0,8.1 0 0 0 478.4,590.7 L478.4,589.4" stroke="#1e1e1e" stroke-width="1.47" fill="#fff" />
<ellipse cx="465.4" cy="589.4" rx="13.0" ry="8.1" stroke="#1e1e1e" stroke-width="1.47" fill="#fff"/>
<ellipse cx="465.4" cy="590.3" rx="9.8" ry="5.4" stroke="#1e1e1e" stroke-width="1.41" fill="none"/>
<path d="M456.2,588.8 A9.8,5.4 0 0 1 474.6,588.8" stroke="#1e1e1e" stroke-width="1.02" fill="none" />
<path d="M505.2,637.6 L505.2,639.4 A15.4,8.8 0 0 0 536.0,639.4 L536.0,637.6" stroke="#1e1e1e" stroke-width="1.41" fill="#fff" />
<ellipse cx="520.6" cy="637.6" rx="15.4" ry="8.8" stroke="#1e1e1e" stroke-width="1.41" fill="#fff"/>
<ellipse cx="520.6" cy="638.0" rx="13.2" ry="7.2" stroke="#1e1e1e" stroke-width="1.02" fill="none"/>
<path d="M517.7,570.4 L517.7,622.8 Q517.2,635.6 509.7,639.1 Q520.6,642.4 531.5,639.1 Q524.0,635.6 523.5,622.8 L523.5,570.4 Q520.6,568.0 517.7,570.4 Z" stroke="#1e1e1e" stroke-width="1.41" fill="#fff" />
<line x1="517.7" y1="572.6" x2="523.5" y2="572.6" stroke="#1e1e1e" stroke-width="1.02"/>
<line x1="517.7" y1="574.2" x2="523.5" y2="574.2" stroke="#1e1e1e" stroke-width="1.02"/>
<line x1="517.7" y1="623.8" x2="523.5" y2="623.8" stroke="#1e1e1e" stroke-width="0.90"/>
<path d="M453.2,680.0 L453.2,681.8 A12.8,7.4 0 0 0 478.8,681.8 L478.8,680.0" stroke="#1e1e1e" stroke-width="1.41" fill="#fff" />
<ellipse cx="466.0" cy="680.0" rx="12.8" ry="7.4" stroke="#1e1e1e" stroke-width="1.41" fill="#fff"/>
<ellipse cx="466.0" cy="680.4" rx="10.6" ry="5.8" stroke="#1e1e1e" stroke-width="1.02" fill="none"/>
<path d="M463.3,614.4 L463.3,666.6 Q462.8,678.0 457.7,681.5 Q466.0,684.1 474.3,681.5 Q469.2,678.0 468.7,666.6 L468.7,614.4 Q466.0,612.0 463.3,614.4 Z" stroke="#1e1e1e" stroke-width="1.41" fill="#fff" />
<line x1="463.3" y1="616.6" x2="468.7" y2="616.6" stroke="#1e1e1e" stroke-width="1.02"/>
<line x1="463.3" y1="618.2" x2="468.7" y2="618.2" stroke="#1e1e1e" stroke-width="1.02"/>
<line x1="463.3" y1="667.6" x2="468.7" y2="667.6" stroke="#1e1e1e" stroke-width="0.90"/>
<ellipse cx="109.0" cy="664.2" rx="6.6" ry="9.2" stroke="#1e1e1e" stroke-width="1.41" fill="none" transform="rotate(-35 109.0 664.2)"/>
<ellipse cx="109.8" cy="664.8" rx="5.6" ry="8.0" stroke="#1e1e1e" stroke-width="1.02" fill="none" transform="rotate(-35 109.8 664.8)"/>
<ellipse cx="146.4" cy="676.0" rx="4.6" ry="6.6" stroke="#1e1e1e" stroke-width="1.41" fill="none" transform="rotate(-35 146.4 676.0)"/>
<ellipse cx="147.0" cy="676.4" rx="3.8" ry="5.6" stroke="#1e1e1e" stroke-width="1.02" fill="none" transform="rotate(-35 147.0 676.4)"/>
<line x1="192.7" y1="682.6" x2="524.0" y2="493.6" stroke="#1e1e1e" stroke-width="1.41"/>
<path d="M199.5,627.0 Q203.5,623.0 205.9,622.5 Q208.4,621.9 209.9,622.1 Q211.3,622.4 212.4,624.5 Q213.6,626.5 215.1,629.4 Q216.5,632.3 218.2,634.3 Q220.0,636.4 220.4,639.0 Q220.9,641.6 220.4,644.5 Q220.0,647.4 218.6,650.9 Q217.1,654.4 215.9,657.3 Q214.8,660.2 213.9,663.1 Q213.1,666.0 211.1,667.8 Q209.0,669.5 206.0,670.8 Q203.0,672.1 199.8,673.5 Q196.5,675.0 192.8,677.5 " stroke="#1e1e1e" stroke-width="1.41" fill="none" />
<path d="M199.5,627.0 Q196.6,636.5 196.0,643.5 Q195.4,650.5 195.6,657.5 Q195.8,664.5 196.5,675.0 " stroke="#1e1e1e" stroke-width="1.28" fill="none" />
<path d="M196.4,625.0 Q193.4,636.5 192.9,643.5 Q192.4,650.5 192.5,658.5 Q192.6,666.5 192.8,677.5 " stroke="#1e1e1e" stroke-width="1.15" fill="none" />
<ellipse cx="209.0" cy="644.5" rx="8.8" ry="15.2" stroke="#1e1e1e" stroke-width="1.54" fill="#fff" transform="rotate(30 209.0 644.5)"/>
<ellipse cx="209.0" cy="644.5" rx="7.2" ry="12.4" stroke="#1e1e1e" stroke-width="1.28" fill="none" transform="rotate(30 209.0 644.5)"/>
<ellipse cx="209.2" cy="624.9" rx="1.4" ry="2.5" stroke="#1e1e1e" stroke-width="1.28" fill="none" transform="rotate(30 209.2 624.9)"/>
<ellipse cx="209.2" cy="663.5" rx="1.4" ry="2.5" stroke="#1e1e1e" stroke-width="1.28" fill="none" transform="rotate(30 209.2 663.5)"/>
<line x1="217.6" y1="648.7" x2="218.8" y2="649.7" stroke="#1e1e1e" stroke-width="1.28"/>
<line x1="217.4" y1="656.1" x2="254.1" y2="635.1" stroke="#1e1e1e" stroke-width="1.34"/>
<path d="M259.9,593.0 Q260.8,592.2 261.9,591.4 Q263.1,590.5 264.5,590.8 Q266.0,591.0 267.1,593.0 Q268.3,595.1 269.8,598.0 Q271.2,600.9 272.9,603.0 Q274.7,605.0 275.1,607.6 Q275.6,610.2 275.1,613.1 Q274.7,616.0 273.2,619.5 Q271.8,623.0 270.6,625.9 Q269.5,628.8 268.6,631.7 Q267.8,634.6 265.8,636.4 Q263.7,638.1 261.6,637.9 Q259.6,637.7 258.4,635.9 Q257.3,634.0 256.1,634.3 Q255.0,634.6 251.8,636.0 Q248.6,637.5 246.3,637.1 Q244.0,636.7 243.1,634.5 Q242.2,632.3 242.8,629.4 Q243.4,626.5 242.5,623.5 Q241.6,620.6 241.6,617.7 Q241.6,614.8 242.8,611.9 Q244.0,609.0 247.4,607.9 Q250.9,606.7 252.9,605.0 Q255.0,603.2 256.4,600.3 Q257.9,597.4 258.5,595.6 Q259.1,593.9 259.9,593.0 Z" stroke="#1e1e1e" stroke-width="1.41" fill="#fff" />
<ellipse cx="247.3" cy="613.7" rx="3.9" ry="6.7" stroke="#1e1e1e" stroke-width="1.28" fill="none" transform="rotate(30 247.3 613.7)"/>
<path d="M244.1,616.7 Q246.7,620.5 250.5,610.7" stroke="#1e1e1e" stroke-width="1.02" fill="none" />
<ellipse cx="247.5" cy="630.3" rx="3.8" ry="6.5" stroke="#1e1e1e" stroke-width="1.28" fill="none" transform="rotate(30 247.5 630.3)"/>
<path d="M244.3,633.3 Q246.9,636.7 250.7,627.3" stroke="#1e1e1e" stroke-width="1.02" fill="none" />
<ellipse cx="263.7" cy="613.1" rx="8.8" ry="15.2" stroke="#1e1e1e" stroke-width="1.54" fill="#fff" transform="rotate(30 263.7 613.1)"/>
<ellipse cx="263.7" cy="613.1" rx="7.2" ry="12.4" stroke="#1e1e1e" stroke-width="1.28" fill="none" transform="rotate(30 263.7 613.1)"/>
<ellipse cx="263.9" cy="593.5" rx="1.4" ry="2.5" stroke="#1e1e1e" stroke-width="1.28" fill="none" transform="rotate(30 263.9 593.5)"/>
<ellipse cx="263.9" cy="632.1" rx="1.4" ry="2.5" stroke="#1e1e1e" stroke-width="1.28" fill="none" transform="rotate(30 263.9 632.1)"/>
<line x1="272.3" y1="617.3" x2="273.5" y2="618.3" stroke="#1e1e1e" stroke-width="1.28"/>
<line x1="272.1" y1="624.7" x2="308.8" y2="603.7" stroke="#1e1e1e" stroke-width="1.34"/>
<ellipse cx="237.0" cy="608.7" rx="1.3" ry="2.3" stroke="#1e1e1e" stroke-width="1.28" fill="none" transform="rotate(30 237.0 608.7)"/>
<path d="M233.9,610.3 L233.9,627.7 L223.7,633.5" stroke="#1e1e1e" stroke-width="1.34" fill="none" />
<path d="M225.7,616.1 L225.7,628.7 L231.5,626.1 L231.5,611.5" stroke="#1e1e1e" stroke-width="1.15" fill="none" />
<path d="M220.1,614.3 L225.7,628.7" stroke="#1e1e1e" stroke-width="1.15" fill="none" />
<path d="M314.6,561.7 Q315.5,560.8 316.6,560.0 Q317.8,559.1 319.2,559.4 Q320.7,559.6 321.9,561.7 Q323.0,563.7 324.4,566.6 Q325.9,569.5 327.6,571.5 Q329.4,573.6 329.8,576.2 Q330.3,578.8 329.8,581.7 Q329.4,584.6 327.9,588.1 Q326.5,591.6 325.4,594.5 Q324.2,597.4 323.4,600.3 Q322.5,603.2 320.4,605.0 Q318.4,606.7 316.3,606.5 Q314.3,606.3 313.1,604.5 Q312.0,602.6 310.9,602.9 Q309.7,603.2 306.5,604.7 Q303.3,606.1 301.0,605.7 Q298.7,605.3 297.8,603.1 Q296.9,600.9 297.5,598.0 Q298.1,595.1 297.2,592.2 Q296.3,589.2 296.3,586.3 Q296.3,583.4 297.5,580.5 Q298.7,577.6 302.1,576.5 Q305.6,575.3 307.6,573.6 Q309.7,571.8 311.1,568.9 Q312.6,566.0 313.2,564.2 Q313.8,562.5 314.6,561.7 Z" stroke="#1e1e1e" stroke-width="1.41" fill="#fff" />
<ellipse cx="302.0" cy="582.3" rx="3.9" ry="6.7" stroke="#1e1e1e" stroke-width="1.28" fill="none" transform="rotate(30 302.0 582.3)"/>
<path d="M298.8,585.3 Q301.4,589.1 305.2,579.3" stroke="#1e1e1e" stroke-width="1.02" fill="none" />
<ellipse cx="302.2" cy="598.9" rx="3.8" ry="6.5" stroke="#1e1e1e" stroke-width="1.28" fill="none" transform="rotate(30 302.2 598.9)"/>
<path d="M299.0,601.9 Q301.6,605.3 305.4,595.9" stroke="#1e1e1e" stroke-width="1.02" fill="none" />
<ellipse cx="318.4" cy="581.7" rx="8.8" ry="15.2" stroke="#1e1e1e" stroke-width="1.54" fill="#fff" transform="rotate(30 318.4 581.7)"/>
<ellipse cx="318.4" cy="581.7" rx="7.2" ry="12.4" stroke="#1e1e1e" stroke-width="1.28" fill="none" transform="rotate(30 318.4 581.7)"/>
<ellipse cx="318.6" cy="562.1" rx="1.4" ry="2.5" stroke="#1e1e1e" stroke-width="1.28" fill="none" transform="rotate(30 318.6 562.1)"/>
<ellipse cx="318.6" cy="600.7" rx="1.4" ry="2.5" stroke="#1e1e1e" stroke-width="1.28" fill="none" transform="rotate(30 318.6 600.7)"/>
<line x1="327.0" y1="585.9" x2="328.2" y2="586.9" stroke="#1e1e1e" stroke-width="1.28"/>
<line x1="326.8" y1="593.3" x2="363.5" y2="572.3" stroke="#1e1e1e" stroke-width="1.34"/>
<ellipse cx="291.7" cy="577.3" rx="1.3" ry="2.3" stroke="#1e1e1e" stroke-width="1.28" fill="none" transform="rotate(30 291.7 577.3)"/>
<path d="M288.6,578.9 L288.6,596.3 L278.4,602.1" stroke="#1e1e1e" stroke-width="1.34" fill="none" />
<path d="M280.4,584.7 L280.4,597.3 L286.2,594.7 L286.2,580.1" stroke="#1e1e1e" stroke-width="1.15" fill="none" />
<path d="M274.8,582.9 L280.4,597.3" stroke="#1e1e1e" stroke-width="1.15" fill="none" />
<path d="M369.4,530.2 Q370.2,529.4 371.4,528.5 Q372.5,527.7 374.0,527.9 Q375.4,528.2 376.6,530.2 Q377.7,532.3 379.2,535.2 Q380.6,538.1 382.4,540.1 Q384.1,542.2 384.6,544.8 Q385.0,547.4 384.6,550.3 Q384.1,553.2 382.7,556.7 Q381.2,560.2 380.1,563.1 Q378.9,566.0 378.1,568.9 Q377.2,571.8 375.2,573.5 Q373.1,575.3 371.1,575.1 Q369.0,574.9 367.9,573.0 Q366.7,571.2 365.6,571.5 Q364.4,571.8 361.2,573.2 Q358.0,574.7 355.7,574.3 Q353.4,573.9 352.5,571.7 Q351.6,569.5 352.2,566.6 Q352.8,563.7 351.9,560.8 Q351.0,557.8 351.0,554.9 Q351.0,552.0 352.2,549.1 Q353.4,546.2 356.9,545.0 Q360.3,543.9 362.4,542.1 Q364.4,540.4 365.9,537.5 Q367.3,534.6 367.9,532.8 Q368.5,531.1 369.4,530.2 Z" stroke="#1e1e1e" stroke-width="1.41" fill="#fff" />
<ellipse cx="356.7" cy="550.9" rx="3.9" ry="6.7" stroke="#1e1e1e" stroke-width="1.28" fill="none" transform="rotate(30 356.7 550.9)"/>
<path d="M353.5,553.9 Q356.1,557.7 359.9,547.9" stroke="#1e1e1e" stroke-width="1.02" fill="none" />
<ellipse cx="356.9" cy="567.5" rx="3.8" ry="6.5" stroke="#1e1e1e" stroke-width="1.28" fill="none" transform="rotate(30 356.9 567.5)"/>
<path d="M353.7,570.5 Q356.3,573.9 360.1,564.5" stroke="#1e1e1e" stroke-width="1.02" fill="none" />
<ellipse cx="373.1" cy="550.3" rx="8.8" ry="15.2" stroke="#1e1e1e" stroke-width="1.54" fill="#fff" transform="rotate(30 373.1 550.3)"/>
<ellipse cx="373.1" cy="550.3" rx="7.2" ry="12.4" stroke="#1e1e1e" stroke-width="1.28" fill="none" transform="rotate(30 373.1 550.3)"/>
<ellipse cx="373.3" cy="530.7" rx="1.4" ry="2.5" stroke="#1e1e1e" stroke-width="1.28" fill="none" transform="rotate(30 373.3 530.7)"/>
<ellipse cx="373.3" cy="569.3" rx="1.4" ry="2.5" stroke="#1e1e1e" stroke-width="1.28" fill="none" transform="rotate(30 373.3 569.3)"/>
<line x1="381.7" y1="554.5" x2="382.9" y2="555.5" stroke="#1e1e1e" stroke-width="1.28"/>
<line x1="381.5" y1="561.9" x2="418.2" y2="540.9" stroke="#1e1e1e" stroke-width="1.34"/>
<ellipse cx="346.4" cy="545.9" rx="1.3" ry="2.3" stroke="#1e1e1e" stroke-width="1.28" fill="none" transform="rotate(30 346.4 545.9)"/>
<path d="M343.3,547.5 L343.3,564.9 L333.1,570.7" stroke="#1e1e1e" stroke-width="1.34" fill="none" />
<path d="M335.1,553.3 L335.1,565.9 L340.9,563.3 L340.9,548.7" stroke="#1e1e1e" stroke-width="1.15" fill="none" />
<path d="M329.5,551.5 L335.1,565.9" stroke="#1e1e1e" stroke-width="1.15" fill="none" />
<path d="M424.1,498.9 Q424.9,498.0 426.1,497.1 Q427.2,496.3 428.6,496.5 Q430.1,496.8 431.2,498.8 Q432.4,500.9 433.9,503.8 Q435.3,506.7 437.1,508.8 Q438.8,510.8 439.2,513.4 Q439.7,516.0 439.2,518.9 Q438.8,521.8 437.4,525.3 Q435.9,528.8 434.8,531.7 Q433.6,534.6 432.8,537.5 Q431.9,540.4 429.9,542.1 Q427.8,543.9 425.8,543.7 Q423.7,543.5 422.6,541.6 Q421.4,539.8 420.2,540.1 Q419.1,540.4 415.9,541.8 Q412.7,543.3 410.4,542.9 Q408.1,542.5 407.2,540.3 Q406.3,538.1 406.9,535.2 Q407.5,532.3 406.6,529.3 Q405.7,526.4 405.7,523.5 Q405.7,520.6 406.9,517.7 Q408.1,514.8 411.6,513.6 Q415.0,512.5 417.1,510.8 Q419.1,509.0 420.6,506.1 Q422.0,503.2 422.6,501.4 Q423.2,499.7 424.1,498.9 Z" stroke="#1e1e1e" stroke-width="1.41" fill="#fff" />
<ellipse cx="411.4" cy="519.5" rx="3.9" ry="6.7" stroke="#1e1e1e" stroke-width="1.28" fill="none" transform="rotate(30 411.4 519.5)"/>
<path d="M408.2,522.5 Q410.8,526.3 414.6,516.5" stroke="#1e1e1e" stroke-width="1.02" fill="none" />
<ellipse cx="411.6" cy="536.1" rx="3.8" ry="6.5" stroke="#1e1e1e" stroke-width="1.28" fill="none" transform="rotate(30 411.6 536.1)"/>
<path d="M408.4,539.1 Q411.0,542.5 414.8,533.1" stroke="#1e1e1e" stroke-width="1.02" fill="none" />
<ellipse cx="427.8" cy="518.9" rx="8.8" ry="15.2" stroke="#1e1e1e" stroke-width="1.54" fill="#fff" transform="rotate(30 427.8 518.9)"/>
<ellipse cx="427.8" cy="518.9" rx="7.2" ry="12.4" stroke="#1e1e1e" stroke-width="1.28" fill="none" transform="rotate(30 427.8 518.9)"/>
<ellipse cx="428.0" cy="499.3" rx="1.4" ry="2.5" stroke="#1e1e1e" stroke-width="1.28" fill="none" transform="rotate(30 428.0 499.3)"/>
<ellipse cx="428.0" cy="537.9" rx="1.4" ry="2.5" stroke="#1e1e1e" stroke-width="1.28" fill="none" transform="rotate(30 428.0 537.9)"/>
<line x1="436.4" y1="523.1" x2="437.6" y2="524.1" stroke="#1e1e1e" stroke-width="1.28"/>
<line x1="436.2" y1="530.5" x2="472.9" y2="509.5" stroke="#1e1e1e" stroke-width="1.34"/>
<ellipse cx="401.1" cy="514.5" rx="1.3" ry="2.3" stroke="#1e1e1e" stroke-width="1.28" fill="none" transform="rotate(30 401.1 514.5)"/>
<path d="M398.0,516.1 L398.0,533.5 L387.8,539.3" stroke="#1e1e1e" stroke-width="1.34" fill="none" />
<path d="M389.8,521.9 L389.8,534.5 L395.6,531.9 L395.6,517.3" stroke="#1e1e1e" stroke-width="1.15" fill="none" />
<path d="M384.2,520.1 L389.8,534.5" stroke="#1e1e1e" stroke-width="1.15" fill="none" />
<path d="M478.8,467.5 Q479.6,466.6 480.8,465.8 Q481.9,464.9 483.4,465.1 Q484.8,465.4 486.0,467.4 Q487.1,469.5 488.6,472.4 Q490.0,475.3 491.8,477.4 Q493.5,479.4 493.9,482.0 Q494.4,484.6 493.9,487.5 Q493.5,490.4 492.1,493.9 Q490.6,497.4 489.5,500.3 Q488.3,503.2 487.5,506.1 Q486.6,509.0 484.6,510.8 Q482.5,512.5 480.4,512.3 Q478.4,512.1 477.2,510.2 Q476.1,508.4 475.0,508.7 Q473.8,509.0 470.6,510.4 Q467.4,511.9 465.1,511.5 Q462.8,511.1 461.9,508.9 Q461.0,506.7 461.6,503.8 Q462.2,500.9 461.3,497.9 Q460.4,495.0 460.4,492.1 Q460.4,489.2 461.6,486.3 Q462.8,483.4 466.2,482.2 Q469.7,481.1 471.8,479.4 Q473.8,477.6 475.2,474.7 Q476.7,471.8 477.3,470.1 Q477.9,468.3 478.8,467.5 Z" stroke="#1e1e1e" stroke-width="1.41" fill="#fff" />
<ellipse cx="466.1" cy="488.1" rx="3.9" ry="6.7" stroke="#1e1e1e" stroke-width="1.28" fill="none" transform="rotate(30 466.1 488.1)"/>
<path d="M462.9,491.1 Q465.5,494.9 469.3,485.1" stroke="#1e1e1e" stroke-width="1.02" fill="none" />
<ellipse cx="466.3" cy="504.7" rx="3.8" ry="6.5" stroke="#1e1e1e" stroke-width="1.28" fill="none" transform="rotate(30 466.3 504.7)"/>
<path d="M463.1,507.7 Q465.7,511.1 469.5,501.7" stroke="#1e1e1e" stroke-width="1.02" fill="none" />
<ellipse cx="482.5" cy="487.5" rx="8.8" ry="15.2" stroke="#1e1e1e" stroke-width="1.54" fill="#fff" transform="rotate(30 482.5 487.5)"/>
<ellipse cx="482.5" cy="487.5" rx="7.2" ry="12.4" stroke="#1e1e1e" stroke-width="1.28" fill="none" transform="rotate(30 482.5 487.5)"/>
<ellipse cx="482.7" cy="467.9" rx="1.4" ry="2.5" stroke="#1e1e1e" stroke-width="1.28" fill="none" transform="rotate(30 482.7 467.9)"/>
<ellipse cx="482.7" cy="506.5" rx="1.4" ry="2.5" stroke="#1e1e1e" stroke-width="1.28" fill="none" transform="rotate(30 482.7 506.5)"/>
<line x1="491.1" y1="491.7" x2="492.3" y2="492.7" stroke="#1e1e1e" stroke-width="1.28"/>
<line x1="490.9" y1="499.1" x2="516.8" y2="484.4" stroke="#1e1e1e" stroke-width="1.34"/>
<ellipse cx="455.8" cy="483.1" rx="1.3" ry="2.3" stroke="#1e1e1e" stroke-width="1.28" fill="none" transform="rotate(30 455.8 483.1)"/>
<path d="M452.7,484.7 L452.7,502.1 L442.5,507.9" stroke="#1e1e1e" stroke-width="1.34" fill="none" />
<path d="M444.5,490.5 L444.5,503.1 L450.3,500.5 L450.3,485.9" stroke="#1e1e1e" stroke-width="1.15" fill="none" />
<path d="M438.9,488.7 L444.5,503.1" stroke="#1e1e1e" stroke-width="1.15" fill="none" />
<path d="M204.0,610.5 Q209.8,608.3 212.2,610.6 Q214.5,613.0 215.5,615.9 Q216.5,618.8 216.8,623.5 " stroke="#1e1e1e" stroke-width="1.34" fill="none" />
<path d="M204.0,610.5 Q206.5,613.8 208.6,614.6 Q210.7,615.5 211.8,617.1 Q212.8,618.8 212.4,622.1 " stroke="#1e1e1e" stroke-width="1.28" fill="none" />
<path d="M216.6,622.1 L227.4,616.9 L228.8,612.1" stroke="#1e1e1e" stroke-width="1.28" fill="none" />
<path d="M215.6,613.5 Q219.0,613.1 224.8,611.5" stroke="#1e1e1e" stroke-width="1.22" fill="none" />
<path d="M218.6,616.1 L224.6,613.7 L225.2,615.9 L219.2,618.5 Z" stroke="#1e1e1e" stroke-width="1.02" fill="#444" />
<ellipse cx="241.1" cy="593.5" rx="6.3" ry="3.6" stroke="#1e1e1e" stroke-width="1.28" fill="#fff" transform="rotate(-8 241.1 593.5)"/>
<ellipse cx="241.1" cy="593.5" rx="4.3" ry="2.4" stroke="#1e1e1e" stroke-width="0.96" fill="none" transform="rotate(-8 241.1 593.5)"/>
<ellipse cx="241.1" cy="593.5" rx="2.3" ry="1.2" stroke="#1e1e1e" stroke-width="0.90" fill="none" transform="rotate(-8 241.1 593.5)"/>
<line x1="236.9" y1="593.9" x2="245.3" y2="593.1" stroke="#1e1e1e" stroke-width="0.70"/>
<line x1="240.7" y1="591.1" x2="241.5" y2="595.9" stroke="#1e1e1e" stroke-width="0.70"/>
<path d="M241.1,600.7 L257.1,595.1 L258.5,599.3 L242.9,606.5 Z" stroke="#1e1e1e" stroke-width="1.28" fill="#fff" />
<path d="M244.7,602.5 L255.5,598.3 L256.3,600.5 L245.7,604.7 Z" stroke="#1e1e1e" stroke-width="1.15" fill="#444" />
<path d="M231.7,595.5 Q233.7,600.1 241.1,599.5 Q246.7,598.7 248.5,595.5" stroke="#1e1e1e" stroke-width="1.22" fill="none" />
<path d="M250.7,591.7 L254.5,593.9 L253.1,596.7 L250.1,596.1 Z" stroke="#1e1e1e" stroke-width="1.02" fill="#555" />
<path d="M232.1,604.1 L239.3,603.5 M233.9,610.3 L241.1,605.7" stroke="#1e1e1e" stroke-width="1.28" fill="none" />
<path d="M234.1,600.5 Q237.7,602.1 245.1,598.7 L249.5,595.5" stroke="#1e1e1e" stroke-width="1.15" fill="none" />
<path d="M245.5,586.6 Q249.6,585.5 251.1,587.7 Q252.6,589.9 253.8,592.0 Q254.9,594.0 256.2,597.9 " stroke="#1e1e1e" stroke-width="1.34" fill="none" />
<path d="M245.5,586.6 Q247.1,589.9 248.8,590.7 Q250.4,591.5 251.5,592.8 Q252.6,594.0 251.6,597.7 " stroke="#1e1e1e" stroke-width="1.28" fill="none" />
<path d="M258.7,579.1 Q264.5,576.9 266.9,579.2 Q269.2,581.6 270.2,584.5 Q271.2,587.4 271.5,592.1 " stroke="#1e1e1e" stroke-width="1.34" fill="none" />
<path d="M258.7,579.1 Q261.2,582.4 263.3,583.2 Q265.4,584.1 266.4,585.8 Q267.5,587.4 267.1,590.7 " stroke="#1e1e1e" stroke-width="1.28" fill="none" />
<path d="M267.1,590.7 L271.5,592.1" stroke="#1e1e1e" stroke-width="1.15" fill="none" />
<path d="M271.3,590.7 L282.1,585.5 L283.5,580.7" stroke="#1e1e1e" stroke-width="1.28" fill="none" />
<path d="M270.3,582.1 Q273.7,581.7 279.5,580.1" stroke="#1e1e1e" stroke-width="1.22" fill="none" />
<path d="M273.3,584.7 L279.3,582.3 L279.9,584.5 L273.9,587.1 Z" stroke="#1e1e1e" stroke-width="1.02" fill="#444" />
<path d="M219.8,601.5 Q223.9,597.9 226.4,599.5 Q228.9,601.0 230.8,602.5 Q232.7,604.0 233.7,609.8 " stroke="#1e1e1e" stroke-width="1.34" fill="none" />
<path d="M219.8,601.5 Q223.1,604.0 225.1,604.4 Q227.2,604.8 228.4,606.1 Q229.7,607.3 229.4,611.9 " stroke="#1e1e1e" stroke-width="1.28" fill="none" />
<path d="M250.1,599.7 L254.3,597.7 L254.7,601.3 Z" stroke="#1e1e1e" stroke-width="1.02" fill="#444" />
<ellipse cx="295.8" cy="562.1" rx="6.3" ry="3.6" stroke="#1e1e1e" stroke-width="1.28" fill="#fff" transform="rotate(-8 295.8 562.1)"/>
<ellipse cx="295.8" cy="562.1" rx="4.3" ry="2.4" stroke="#1e1e1e" stroke-width="0.96" fill="none" transform="rotate(-8 295.8 562.1)"/>
<ellipse cx="295.8" cy="562.1" rx="2.3" ry="1.2" stroke="#1e1e1e" stroke-width="0.90" fill="none" transform="rotate(-8 295.8 562.1)"/>
<line x1="291.6" y1="562.5" x2="300.0" y2="561.7" stroke="#1e1e1e" stroke-width="0.70"/>
<line x1="295.4" y1="559.7" x2="296.2" y2="564.5" stroke="#1e1e1e" stroke-width="0.70"/>
<path d="M295.8,569.3 L311.8,563.7 L313.2,567.9 L297.6,575.1 Z" stroke="#1e1e1e" stroke-width="1.28" fill="#fff" />
<path d="M299.4,571.1 L310.2,566.9 L311.0,569.1 L300.4,573.3 Z" stroke="#1e1e1e" stroke-width="1.15" fill="#444" />
<path d="M286.4,564.1 Q288.4,568.7 295.8,568.1 Q301.4,567.3 303.2,564.1" stroke="#1e1e1e" stroke-width="1.22" fill="none" />
<path d="M305.4,560.3 L309.2,562.5 L307.8,565.3 L304.8,564.7 Z" stroke="#1e1e1e" stroke-width="1.02" fill="#555" />
<path d="M286.8,572.7 L294.0,572.1 M288.6,578.9 L295.8,574.3" stroke="#1e1e1e" stroke-width="1.28" fill="none" />
<path d="M288.8,569.1 Q292.4,570.7 299.8,567.3 L304.2,564.1" stroke="#1e1e1e" stroke-width="1.15" fill="none" />
<path d="M300.2,555.2 Q304.3,554.1 305.8,556.3 Q307.3,558.5 308.4,560.5 Q309.6,562.6 310.9,566.5 " stroke="#1e1e1e" stroke-width="1.34" fill="none" />
<path d="M300.2,555.2 Q301.8,558.5 303.4,559.3 Q305.1,560.1 306.2,561.4 Q307.3,562.6 306.3,566.3 " stroke="#1e1e1e" stroke-width="1.28" fill="none" />
<path d="M313.4,547.7 Q319.2,545.5 321.5,547.9 Q323.9,550.2 324.9,553.1 Q325.9,556.0 326.2,560.7 " stroke="#1e1e1e" stroke-width="1.34" fill="none" />
<path d="M313.4,547.7 Q315.9,551.0 318.0,551.9 Q320.1,552.7 321.1,554.4 Q322.2,556.0 321.8,559.3 " stroke="#1e1e1e" stroke-width="1.28" fill="none" />
<path d="M321.8,559.3 L326.2,560.7" stroke="#1e1e1e" stroke-width="1.15" fill="none" />
<path d="M326.0,559.3 L336.8,554.1 L338.2,549.3" stroke="#1e1e1e" stroke-width="1.28" fill="none" />
<path d="M325.0,550.7 Q328.4,550.3 334.2,548.7" stroke="#1e1e1e" stroke-width="1.22" fill="none" />
<path d="M328.0,553.3 L334.0,550.9 L334.6,553.1 L328.6,555.7 Z" stroke="#1e1e1e" stroke-width="1.02" fill="#444" />
<path d="M274.5,570.1 Q278.6,566.5 281.1,568.0 Q283.6,569.6 285.5,571.1 Q287.4,572.6 288.4,578.4 " stroke="#1e1e1e" stroke-width="1.34" fill="none" />
<path d="M274.5,570.1 Q277.8,572.6 279.8,573.0 Q281.9,573.4 283.1,574.7 Q284.4,575.9 284.1,580.5 " stroke="#1e1e1e" stroke-width="1.28" fill="none" />
<path d="M304.8,568.3 L309.0,566.3 L309.4,569.9 Z" stroke="#1e1e1e" stroke-width="1.02" fill="#444" />
<ellipse cx="350.5" cy="530.7" rx="6.3" ry="3.6" stroke="#1e1e1e" stroke-width="1.28" fill="#fff" transform="rotate(-8 350.5 530.7)"/>
<ellipse cx="350.5" cy="530.7" rx="4.3" ry="2.4" stroke="#1e1e1e" stroke-width="0.96" fill="none" transform="rotate(-8 350.5 530.7)"/>
<ellipse cx="350.5" cy="530.7" rx="2.3" ry="1.2" stroke="#1e1e1e" stroke-width="0.90" fill="none" transform="rotate(-8 350.5 530.7)"/>
<line x1="346.3" y1="531.1" x2="354.7" y2="530.3" stroke="#1e1e1e" stroke-width="0.70"/>
<line x1="350.1" y1="528.3" x2="350.9" y2="533.1" stroke="#1e1e1e" stroke-width="0.70"/>
<path d="M350.5,537.9 L366.5,532.3 L367.9,536.5 L352.3,543.7 Z" stroke="#1e1e1e" stroke-width="1.28" fill="#fff" />
<path d="M354.1,539.7 L364.9,535.5 L365.7,537.7 L355.1,541.9 Z" stroke="#1e1e1e" stroke-width="1.15" fill="#444" />
<path d="M341.1,532.7 Q343.1,537.3 350.5,536.7 Q356.1,535.9 357.9,532.7" stroke="#1e1e1e" stroke-width="1.22" fill="none" />
<path d="M360.1,528.9 L363.9,531.1 L362.5,533.9 L359.5,533.3 Z" stroke="#1e1e1e" stroke-width="1.02" fill="#555" />
<path d="M341.5,541.3 L348.7,540.7 M343.3,547.5 L350.5,542.9" stroke="#1e1e1e" stroke-width="1.28" fill="none" />
<path d="M343.5,537.7 Q347.1,539.3 354.5,535.9 L358.9,532.7" stroke="#1e1e1e" stroke-width="1.15" fill="none" />
<path d="M354.9,523.8 Q359.0,522.7 360.5,524.9 Q362.0,527.1 363.1,529.1 Q364.3,531.2 365.6,535.1 " stroke="#1e1e1e" stroke-width="1.34" fill="none" />
<path d="M354.9,523.8 Q356.5,527.1 358.1,527.9 Q359.8,528.7 360.9,529.9 Q362.0,531.2 361.0,534.9 " stroke="#1e1e1e" stroke-width="1.28" fill="none" />
<path d="M368.1,516.3 Q373.9,514.1 376.2,516.4 Q378.6,518.8 379.6,521.7 Q380.6,524.6 380.9,529.3 " stroke="#1e1e1e" stroke-width="1.34" fill="none" />
<path d="M368.1,516.3 Q370.6,519.6 372.7,520.4 Q374.8,521.3 375.9,522.9 Q376.9,524.6 376.5,527.9 " stroke="#1e1e1e" stroke-width="1.28" fill="none" />
<path d="M376.5,527.9 L380.9,529.3" stroke="#1e1e1e" stroke-width="1.15" fill="none" />
<path d="M380.7,527.9 L391.5,522.7 L392.9,517.9" stroke="#1e1e1e" stroke-width="1.28" fill="none" />
<path d="M379.7,519.3 Q383.1,518.9 388.9,517.3" stroke="#1e1e1e" stroke-width="1.22" fill="none" />
<path d="M382.7,521.9 L388.7,519.5 L389.3,521.7 L383.3,524.3 Z" stroke="#1e1e1e" stroke-width="1.02" fill="#444" />
<path d="M329.2,538.7 Q333.3,535.1 335.8,536.6 Q338.3,538.2 340.2,539.7 Q342.1,541.2 343.1,547.0 " stroke="#1e1e1e" stroke-width="1.34" fill="none" />
<path d="M329.2,538.7 Q332.5,541.2 334.6,541.6 Q336.6,542.0 337.9,543.2 Q339.1,544.5 338.8,549.1 " stroke="#1e1e1e" stroke-width="1.28" fill="none" />
<path d="M359.5,536.9 L363.7,534.9 L364.1,538.5 Z" stroke="#1e1e1e" stroke-width="1.02" fill="#444" />
<ellipse cx="405.2" cy="499.3" rx="6.3" ry="3.6" stroke="#1e1e1e" stroke-width="1.28" fill="#fff" transform="rotate(-8 405.2 499.3)"/>
<ellipse cx="405.2" cy="499.3" rx="4.3" ry="2.4" stroke="#1e1e1e" stroke-width="0.96" fill="none" transform="rotate(-8 405.2 499.3)"/>
<ellipse cx="405.2" cy="499.3" rx="2.3" ry="1.2" stroke="#1e1e1e" stroke-width="0.90" fill="none" transform="rotate(-8 405.2 499.3)"/>
<line x1="401.0" y1="499.7" x2="409.4" y2="498.9" stroke="#1e1e1e" stroke-width="0.70"/>
<line x1="404.8" y1="496.9" x2="405.6" y2="501.7" stroke="#1e1e1e" stroke-width="0.70"/>
<path d="M405.2,506.5 L421.2,500.9 L422.6,505.1 L407.0,512.3 Z" stroke="#1e1e1e" stroke-width="1.28" fill="#fff" />
<path d="M408.8,508.3 L419.6,504.1 L420.4,506.3 L409.8,510.5 Z" stroke="#1e1e1e" stroke-width="1.15" fill="#444" />
<path d="M395.8,501.3 Q397.8,505.9 405.2,505.3 Q410.8,504.5 412.6,501.3" stroke="#1e1e1e" stroke-width="1.22" fill="none" />
<path d="M414.8,497.5 L418.6,499.7 L417.2,502.5 L414.2,501.9 Z" stroke="#1e1e1e" stroke-width="1.02" fill="#555" />
<path d="M396.2,509.9 L403.4,509.3 M398.0,516.1 L405.2,511.5" stroke="#1e1e1e" stroke-width="1.28" fill="none" />
<path d="M398.2,506.3 Q401.8,507.9 409.2,504.5 L413.6,501.3" stroke="#1e1e1e" stroke-width="1.15" fill="none" />
<path d="M409.6,492.4 Q413.7,491.3 415.2,493.5 Q416.7,495.7 417.9,497.8 Q419.0,499.8 420.3,503.7 " stroke="#1e1e1e" stroke-width="1.34" fill="none" />
<path d="M409.6,492.4 Q411.2,495.7 412.9,496.5 Q414.5,497.3 415.6,498.5 Q416.7,499.8 415.7,503.5 " stroke="#1e1e1e" stroke-width="1.28" fill="none" />
<path d="M422.8,484.9 Q428.6,482.7 431.0,485.0 Q433.3,487.4 434.3,490.3 Q435.3,493.2 435.6,497.9 " stroke="#1e1e1e" stroke-width="1.34" fill="none" />
<path d="M422.8,484.9 Q425.3,488.2 427.4,489.0 Q429.5,489.9 430.6,491.5 Q431.6,493.2 431.2,496.5 " stroke="#1e1e1e" stroke-width="1.28" fill="none" />
<path d="M431.2,496.5 L435.6,497.9" stroke="#1e1e1e" stroke-width="1.15" fill="none" />
<path d="M435.4,496.5 L446.2,491.3 L447.6,486.5" stroke="#1e1e1e" stroke-width="1.28" fill="none" />
<path d="M434.4,487.9 Q437.8,487.5 443.6,485.9" stroke="#1e1e1e" stroke-width="1.22" fill="none" />
<path d="M437.4,490.5 L443.4,488.1 L444.0,490.3 L438.0,492.9 Z" stroke="#1e1e1e" stroke-width="1.02" fill="#444" />
<path d="M383.9,507.3 Q388.0,503.7 390.5,505.2 Q393.0,506.8 394.9,508.3 Q396.8,509.8 397.8,515.6 " stroke="#1e1e1e" stroke-width="1.34" fill="none" />
<path d="M383.9,507.3 Q387.2,509.8 389.2,510.2 Q391.3,510.6 392.6,511.9 Q393.8,513.1 393.5,517.7 " stroke="#1e1e1e" stroke-width="1.28" fill="none" />
<path d="M414.2,505.5 L418.4,503.5 L418.8,507.1 Z" stroke="#1e1e1e" stroke-width="1.02" fill="#444" />
<ellipse cx="459.9" cy="467.9" rx="6.3" ry="3.6" stroke="#1e1e1e" stroke-width="1.28" fill="#fff" transform="rotate(-8 459.9 467.9)"/>
<ellipse cx="459.9" cy="467.9" rx="4.3" ry="2.4" stroke="#1e1e1e" stroke-width="0.96" fill="none" transform="rotate(-8 459.9 467.9)"/>
<ellipse cx="459.9" cy="467.9" rx="2.3" ry="1.2" stroke="#1e1e1e" stroke-width="0.90" fill="none" transform="rotate(-8 459.9 467.9)"/>
<line x1="455.7" y1="468.3" x2="464.1" y2="467.5" stroke="#1e1e1e" stroke-width="0.70"/>
<line x1="459.5" y1="465.5" x2="460.3" y2="470.3" stroke="#1e1e1e" stroke-width="0.70"/>
<path d="M459.9,475.1 L475.9,469.5 L477.3,473.7 L461.7,480.9 Z" stroke="#1e1e1e" stroke-width="1.28" fill="#fff" />
<path d="M463.5,476.9 L474.3,472.7 L475.1,474.9 L464.5,479.1 Z" stroke="#1e1e1e" stroke-width="1.15" fill="#444" />
<path d="M450.5,469.9 Q452.5,474.5 459.9,473.9 Q465.5,473.1 467.3,469.9" stroke="#1e1e1e" stroke-width="1.22" fill="none" />
<path d="M469.5,466.1 L473.3,468.3 L471.9,471.1 L468.9,470.5 Z" stroke="#1e1e1e" stroke-width="1.02" fill="#555" />
<path d="M450.9,478.5 L458.1,477.9 M452.7,484.7 L459.9,480.1" stroke="#1e1e1e" stroke-width="1.28" fill="none" />
<path d="M452.9,474.9 Q456.5,476.5 463.9,473.1 L468.3,469.9" stroke="#1e1e1e" stroke-width="1.15" fill="none" />
<path d="M464.3,461.0 Q468.4,459.9 469.9,462.1 Q471.4,464.3 472.5,466.4 Q473.7,468.4 475.0,472.3 " stroke="#1e1e1e" stroke-width="1.34" fill="none" />
<path d="M464.3,461.0 Q465.9,464.3 467.5,465.1 Q469.2,465.9 470.3,467.1 Q471.4,468.4 470.4,472.1 " stroke="#1e1e1e" stroke-width="1.28" fill="none" />
<path d="M477.5,453.5 Q483.3,451.3 485.6,453.6 Q488.0,456.0 489.0,458.9 Q490.0,461.8 490.3,466.5 " stroke="#1e1e1e" stroke-width="1.34" fill="none" />
<path d="M477.5,453.5 Q480.0,456.8 482.1,457.6 Q484.2,458.5 485.2,460.1 Q486.3,461.8 485.9,465.1 " stroke="#1e1e1e" stroke-width="1.28" fill="none" />
<path d="M485.9,465.1 L490.3,466.5" stroke="#1e1e1e" stroke-width="1.15" fill="none" />
<path d="M438.6,475.9 Q442.7,472.3 445.2,473.9 Q447.7,475.4 449.6,476.9 Q451.5,478.4 452.5,484.2 " stroke="#1e1e1e" stroke-width="1.34" fill="none" />
<path d="M438.6,475.9 Q441.9,478.4 443.9,478.8 Q446.0,479.2 447.2,480.4 Q448.5,481.7 448.2,486.3 " stroke="#1e1e1e" stroke-width="1.28" fill="none" />
<path d="M468.9,474.1 L473.1,472.1 L473.5,475.7 Z" stroke="#1e1e1e" stroke-width="1.02" fill="#444" />
<line x1="111.8" y1="558.8" x2="366.4" y2="410.2" stroke="#1e1e1e" stroke-width="1.41"/>
<path d="M133.8,568.8 L127.4,564.2 Q125.6,562.2 128.2,560.6 L343,434.5" stroke="#1e1e1e" stroke-width="1.28" fill="none" />
<ellipse cx="118.6" cy="559.6" rx="2.2" ry="1.5" stroke="#1e1e1e" stroke-width="1.28" fill="none" transform="rotate(-25 118.6 559.6)"/>
<ellipse cx="133.3" cy="551.1" rx="2.2" ry="1.5" stroke="#1e1e1e" stroke-width="1.28" fill="none" transform="rotate(-25 133.3 551.1)"/>
<ellipse cx="148.2" cy="542.4" rx="2.2" ry="1.5" stroke="#1e1e1e" stroke-width="1.28" fill="none" transform="rotate(-25 148.2 542.4)"/>
<ellipse cx="173.3" cy="527.7" rx="2.2" ry="1.5" stroke="#1e1e1e" stroke-width="1.28" fill="none" transform="rotate(-25 173.3 527.7)"/>
<ellipse cx="188.0" cy="519.1" rx="2.2" ry="1.5" stroke="#1e1e1e" stroke-width="1.28" fill="none" transform="rotate(-25 188.0 519.1)"/>
<ellipse cx="202.9" cy="510.4" rx="2.2" ry="1.5" stroke="#1e1e1e" stroke-width="1.28" fill="none" transform="rotate(-25 202.9 510.4)"/>
<ellipse cx="228.0" cy="495.8" rx="2.2" ry="1.5" stroke="#1e1e1e" stroke-width="1.28" fill="none" transform="rotate(-25 228.0 495.8)"/>
<ellipse cx="242.7" cy="487.2" rx="2.2" ry="1.5" stroke="#1e1e1e" stroke-width="1.28" fill="none" transform="rotate(-25 242.7 487.2)"/>
<ellipse cx="257.6" cy="478.5" rx="2.2" ry="1.5" stroke="#1e1e1e" stroke-width="1.28" fill="none" transform="rotate(-25 257.6 478.5)"/>
<ellipse cx="282.7" cy="463.8" rx="2.2" ry="1.5" stroke="#1e1e1e" stroke-width="1.28" fill="none" transform="rotate(-25 282.7 463.8)"/>
<ellipse cx="297.4" cy="455.2" rx="2.2" ry="1.5" stroke="#1e1e1e" stroke-width="1.28" fill="none" transform="rotate(-25 297.4 455.2)"/>
<ellipse cx="312.3" cy="446.5" rx="2.2" ry="1.5" stroke="#1e1e1e" stroke-width="1.28" fill="none" transform="rotate(-25 312.3 446.5)"/>
<ellipse cx="337.4" cy="431.9" rx="2.2" ry="1.5" stroke="#1e1e1e" stroke-width="1.28" fill="none" transform="rotate(-25 337.4 431.9)"/>
<path d="M129.4,574.2 L155.9,558.5 L175.1,558.2 C179.0,557.0 178.8,553.6 180.2,548.6 C181.0,544.6 182.6,543.6 184.1,542.8" stroke="#1e1e1e" stroke-width="1.47" fill="none" />
<path d="M131.2,575.6 L156.6,560.6 L175.6,560.3 C180.8,559.0 180.8,554.6 182.0,550.0 C182.8,546.6 184.0,545.6 185.9,544.2" stroke="#1e1e1e" stroke-width="1.15" fill="none" />
<path d="M178.2,556.6 L180.0,547.8 L181.4,550.2 L180.6,556.2 Z" stroke="#1e1e1e" stroke-width="1.15" fill="#222" />
<line x1="156.7" y1="560.6" x2="156.7" y2="579.6" stroke="#1e1e1e" stroke-width="1.28"/>
<line x1="160.1" y1="560.6" x2="160.1" y2="579.8" stroke="#1e1e1e" stroke-width="1.15"/>
<line x1="175.7" y1="560.4" x2="175.7" y2="581.0" stroke="#1e1e1e" stroke-width="1.28"/>
<line x1="185.5" y1="544.8" x2="185.5" y2="576.8" stroke="#1e1e1e" stroke-width="1.28"/>
<path d="M156.7,579.6 Q166.7,583.1 175.7,581.0 Q180.7,580.2 185.5,576.8" stroke="#1e1e1e" stroke-width="1.28" fill="none" />
<ellipse cx="156.7" cy="585.6" rx="2.3" ry="1.5" stroke="#1e1e1e" stroke-width="1.28" fill="none" transform="rotate(-15 156.7 585.6)"/>
<line x1="132.8" y1="584.1" x2="186.5" y2="606.9" stroke="#1e1e1e" stroke-width="1.28"/>
<line x1="145.8" y1="585.0" x2="183.6" y2="602.0" stroke="#1e1e1e" stroke-width="1.22"/>
<line x1="145.8" y1="585.0" x2="156.7" y2="579.6" stroke="#1e1e1e" stroke-width="1.15"/>
<line x1="183.6" y1="602.0" x2="219.4" y2="581.1" stroke="#1e1e1e" stroke-width="1.28"/>
<line x1="186.5" y1="606.9" x2="219.4" y2="587.0" stroke="#1e1e1e" stroke-width="1.22"/>
<line x1="183.6" y1="602.0" x2="187.5" y2="611.9" stroke="#1e1e1e" stroke-width="1.28"/>
<line x1="187.5" y1="611.9" x2="215.4" y2="596.0" stroke="#1e1e1e" stroke-width="1.28"/>
<line x1="219.4" y1="581.1" x2="219.4" y2="593.8" stroke="#1e1e1e" stroke-width="1.15"/>
<path d="M163.0,612.8 Q163.8,609.2 167.6,609.2 Q170.8,609.6 171.4,612.6" stroke="#1e1e1e" stroke-width="1.28" fill="none" />
<line x1="171.4" y1="612.6" x2="187.5" y2="611.9" stroke="#1e1e1e" stroke-width="1.15"/>
<path d="M184.1,542.8 L210.6,527.1 L229.8,526.8 C233.7,525.6 233.5,522.2 234.9,517.2 C235.7,513.2 237.3,512.2 238.8,511.4" stroke="#1e1e1e" stroke-width="1.47" fill="none" />
<path d="M185.9,544.2 L211.3,529.2 L230.3,528.9 C235.5,527.6 235.5,523.2 236.7,518.6 C237.5,515.2 238.7,514.2 240.6,512.8" stroke="#1e1e1e" stroke-width="1.15" fill="none" />
<path d="M232.9,525.2 L234.7,516.4 L236.1,518.8 L235.3,524.8 Z" stroke="#1e1e1e" stroke-width="1.15" fill="#222" />
<line x1="211.4" y1="529.2" x2="211.4" y2="548.2" stroke="#1e1e1e" stroke-width="1.28"/>
<line x1="214.8" y1="529.2" x2="214.8" y2="548.4" stroke="#1e1e1e" stroke-width="1.15"/>
<line x1="230.4" y1="529.0" x2="230.4" y2="549.6" stroke="#1e1e1e" stroke-width="1.28"/>
<line x1="240.2" y1="513.4" x2="240.2" y2="545.4" stroke="#1e1e1e" stroke-width="1.28"/>
<path d="M211.4,548.2 Q221.4,551.7 230.4,549.6 Q235.4,548.8 240.2,545.4" stroke="#1e1e1e" stroke-width="1.28" fill="none" />
<ellipse cx="211.4" cy="554.2" rx="2.3" ry="1.5" stroke="#1e1e1e" stroke-width="1.28" fill="none" transform="rotate(-15 211.4 554.2)"/>
<line x1="187.5" y1="552.7" x2="241.2" y2="575.5" stroke="#1e1e1e" stroke-width="1.28"/>
<line x1="200.5" y1="553.6" x2="238.3" y2="570.6" stroke="#1e1e1e" stroke-width="1.22"/>
<line x1="200.5" y1="553.6" x2="211.4" y2="548.2" stroke="#1e1e1e" stroke-width="1.15"/>
<line x1="184.5" y1="567.6" x2="220.4" y2="580.5" stroke="#1e1e1e" stroke-width="1.28"/>
<line x1="238.3" y1="570.6" x2="274.1" y2="549.7" stroke="#1e1e1e" stroke-width="1.28"/>
<line x1="241.2" y1="575.5" x2="274.1" y2="555.6" stroke="#1e1e1e" stroke-width="1.22"/>
<line x1="238.3" y1="570.6" x2="242.2" y2="580.5" stroke="#1e1e1e" stroke-width="1.28"/>
<line x1="242.2" y1="580.5" x2="270.1" y2="564.6" stroke="#1e1e1e" stroke-width="1.28"/>
<line x1="274.1" y1="549.7" x2="274.1" y2="562.4" stroke="#1e1e1e" stroke-width="1.15"/>
<path d="M217.7,581.4 Q218.5,577.8 222.3,577.8 Q225.5,578.2 226.1,581.2" stroke="#1e1e1e" stroke-width="1.28" fill="none" />
<line x1="219.6" y1="581.2" x2="219.6" y2="595.8" stroke="#1e1e1e" stroke-width="1.15"/>
<line x1="222.1" y1="582.0" x2="222.1" y2="594.8" stroke="#1e1e1e" stroke-width="1.02"/>
<line x1="226.1" y1="581.2" x2="242.2" y2="580.5" stroke="#1e1e1e" stroke-width="1.15"/>
<path d="M222.1,584.8 L226.1,589.8 L222.1,594.4" stroke="#1e1e1e" stroke-width="0.90" fill="none" />
<line x1="185.5" y1="576.8" x2="217.7" y2="581.4" stroke="#1e1e1e" stroke-width="1.15"/>
<line x1="217.7" y1="581.4" x2="190.7" y2="597.2" stroke="#1e1e1e" stroke-width="1.28"/>
<line x1="219.6" y1="584.4" x2="192.5" y2="600.2" stroke="#1e1e1e" stroke-width="1.15"/>
<path d="M238.8,511.4 L265.3,495.7 L284.5,495.4 C288.4,494.2 288.2,490.8 289.6,485.8 C290.4,481.8 292.0,480.8 293.5,480.0" stroke="#1e1e1e" stroke-width="1.47" fill="none" />
<path d="M240.6,512.8 L266.0,497.8 L285.0,497.5 C290.2,496.2 290.2,491.8 291.4,487.2 C292.2,483.8 293.4,482.8 295.3,481.4" stroke="#1e1e1e" stroke-width="1.15" fill="none" />
<path d="M287.6,493.8 L289.4,485.0 L290.8,487.4 L290.0,493.4 Z" stroke="#1e1e1e" stroke-width="1.15" fill="#222" />
<line x1="266.1" y1="497.8" x2="266.1" y2="516.8" stroke="#1e1e1e" stroke-width="1.28"/>
<line x1="269.5" y1="497.8" x2="269.5" y2="517.0" stroke="#1e1e1e" stroke-width="1.15"/>
<line x1="285.1" y1="497.6" x2="285.1" y2="518.2" stroke="#1e1e1e" stroke-width="1.28"/>
<line x1="294.9" y1="482.0" x2="294.9" y2="514.0" stroke="#1e1e1e" stroke-width="1.28"/>
<path d="M266.1,516.8 Q276.1,520.3 285.1,518.2 Q290.1,517.4 294.9,514.0" stroke="#1e1e1e" stroke-width="1.28" fill="none" />
<ellipse cx="266.1" cy="522.8" rx="2.3" ry="1.5" stroke="#1e1e1e" stroke-width="1.28" fill="none" transform="rotate(-15 266.1 522.8)"/>
<line x1="242.2" y1="521.3" x2="295.9" y2="544.1" stroke="#1e1e1e" stroke-width="1.28"/>
<line x1="255.2" y1="522.2" x2="293.0" y2="539.2" stroke="#1e1e1e" stroke-width="1.22"/>
<line x1="255.2" y1="522.2" x2="266.1" y2="516.8" stroke="#1e1e1e" stroke-width="1.15"/>
<line x1="239.2" y1="536.2" x2="275.1" y2="549.1" stroke="#1e1e1e" stroke-width="1.28"/>
<line x1="293.0" y1="539.2" x2="328.8" y2="518.3" stroke="#1e1e1e" stroke-width="1.28"/>
<line x1="295.9" y1="544.1" x2="328.8" y2="524.2" stroke="#1e1e1e" stroke-width="1.22"/>
<line x1="293.0" y1="539.2" x2="296.9" y2="549.1" stroke="#1e1e1e" stroke-width="1.28"/>
<line x1="296.9" y1="549.1" x2="324.8" y2="533.2" stroke="#1e1e1e" stroke-width="1.28"/>
<line x1="328.8" y1="518.3" x2="328.8" y2="531.0" stroke="#1e1e1e" stroke-width="1.15"/>
<path d="M272.4,550.0 Q273.2,546.4 277.0,546.4 Q280.2,546.8 280.8,549.8" stroke="#1e1e1e" stroke-width="1.28" fill="none" />
<line x1="274.3" y1="549.8" x2="274.3" y2="564.4" stroke="#1e1e1e" stroke-width="1.15"/>
<line x1="276.8" y1="550.6" x2="276.8" y2="563.4" stroke="#1e1e1e" stroke-width="1.02"/>
<line x1="280.8" y1="549.8" x2="296.9" y2="549.1" stroke="#1e1e1e" stroke-width="1.15"/>
<path d="M276.8,553.4 L280.8,558.4 L276.8,563.0" stroke="#1e1e1e" stroke-width="0.90" fill="none" />
<line x1="240.2" y1="545.4" x2="272.4" y2="550.0" stroke="#1e1e1e" stroke-width="1.15"/>
<line x1="272.4" y1="550.0" x2="245.4" y2="565.8" stroke="#1e1e1e" stroke-width="1.28"/>
<line x1="274.3" y1="553.0" x2="247.2" y2="568.8" stroke="#1e1e1e" stroke-width="1.15"/>
<path d="M293.5,480.0 L320.0,464.3 L339.2,464.0 C343.1,462.8 342.9,459.4 344.3,454.4 C345.1,450.4 346.7,449.4 348.2,448.6" stroke="#1e1e1e" stroke-width="1.47" fill="none" />
<path d="M295.3,481.4 L320.7,466.4 L339.7,466.1 C344.9,464.8 344.9,460.4 346.1,455.8 C346.9,452.4 348.1,451.4 350.0,450.0" stroke="#1e1e1e" stroke-width="1.15" fill="none" />
<path d="M342.3,462.4 L344.1,453.6 L345.5,456.0 L344.7,462.0 Z" stroke="#1e1e1e" stroke-width="1.15" fill="#222" />
<line x1="320.8" y1="466.4" x2="320.8" y2="485.4" stroke="#1e1e1e" stroke-width="1.28"/>
<line x1="324.2" y1="466.4" x2="324.2" y2="485.6" stroke="#1e1e1e" stroke-width="1.15"/>
<line x1="339.8" y1="466.2" x2="339.8" y2="486.8" stroke="#1e1e1e" stroke-width="1.28"/>
<line x1="349.6" y1="450.6" x2="349.6" y2="482.6" stroke="#1e1e1e" stroke-width="1.28"/>
<path d="M320.8,485.4 Q330.8,488.9 339.8,486.8 Q344.8,486.0 349.6,482.6" stroke="#1e1e1e" stroke-width="1.28" fill="none" />
<ellipse cx="320.8" cy="491.4" rx="2.3" ry="1.5" stroke="#1e1e1e" stroke-width="1.28" fill="none" transform="rotate(-15 320.8 491.4)"/>
<line x1="296.9" y1="489.9" x2="350.6" y2="512.7" stroke="#1e1e1e" stroke-width="1.28"/>
<line x1="309.9" y1="490.8" x2="347.7" y2="507.8" stroke="#1e1e1e" stroke-width="1.22"/>
<line x1="309.9" y1="490.8" x2="320.8" y2="485.4" stroke="#1e1e1e" stroke-width="1.15"/>
<line x1="293.9" y1="504.8" x2="329.8" y2="517.7" stroke="#1e1e1e" stroke-width="1.28"/>
<line x1="347.7" y1="507.8" x2="383.5" y2="486.9" stroke="#1e1e1e" stroke-width="1.28"/>
<line x1="350.6" y1="512.7" x2="383.5" y2="492.8" stroke="#1e1e1e" stroke-width="1.22"/>
<line x1="347.7" y1="507.8" x2="351.6" y2="517.7" stroke="#1e1e1e" stroke-width="1.28"/>
<line x1="351.6" y1="517.7" x2="379.5" y2="501.8" stroke="#1e1e1e" stroke-width="1.28"/>
<line x1="383.5" y1="486.9" x2="383.5" y2="499.6" stroke="#1e1e1e" stroke-width="1.15"/>
<path d="M327.1,518.6 Q327.9,515.0 331.7,515.0 Q334.9,515.4 335.5,518.4" stroke="#1e1e1e" stroke-width="1.28" fill="none" />
<line x1="329.0" y1="518.4" x2="329.0" y2="533.0" stroke="#1e1e1e" stroke-width="1.15"/>
<line x1="331.5" y1="519.2" x2="331.5" y2="532.0" stroke="#1e1e1e" stroke-width="1.02"/>
<line x1="335.5" y1="518.4" x2="351.6" y2="517.7" stroke="#1e1e1e" stroke-width="1.15"/>
<path d="M331.5,522.0 L335.5,527.0 L331.5,531.6" stroke="#1e1e1e" stroke-width="0.90" fill="none" />
<line x1="294.9" y1="514.0" x2="327.1" y2="518.6" stroke="#1e1e1e" stroke-width="1.15"/>
<line x1="327.1" y1="518.6" x2="300.1" y2="534.4" stroke="#1e1e1e" stroke-width="1.28"/>
<line x1="329.0" y1="521.6" x2="301.9" y2="537.4" stroke="#1e1e1e" stroke-width="1.15"/>
<path d="M348.2,448.6 L374.7,432.9 L393.9,432.6 C397.8,431.4 397.6,428.0 399.0,423.0 C399.8,419.0 401.4,418.0 402.9,417.2" stroke="#1e1e1e" stroke-width="1.47" fill="none" />
<path d="M350.0,450.0 L375.4,435.0 L394.4,434.7 C399.6,433.4 399.6,429.0 400.8,424.4 C401.6,421.0 402.8,420.0 404.7,418.6" stroke="#1e1e1e" stroke-width="1.15" fill="none" />
<path d="M397.0,431.0 L398.8,422.2 L400.2,424.6 L399.4,430.6 Z" stroke="#1e1e1e" stroke-width="1.15" fill="#222" />
<line x1="375.5" y1="435.0" x2="375.5" y2="454.0" stroke="#1e1e1e" stroke-width="1.28"/>
<line x1="378.9" y1="435.0" x2="378.9" y2="454.2" stroke="#1e1e1e" stroke-width="1.15"/>
<line x1="394.5" y1="434.8" x2="394.5" y2="455.4" stroke="#1e1e1e" stroke-width="1.28"/>
<line x1="404.3" y1="419.2" x2="404.3" y2="451.2" stroke="#1e1e1e" stroke-width="1.28"/>
<path d="M375.5,454.0 Q385.5,457.5 394.5,455.4 Q399.5,454.6 404.3,451.2" stroke="#1e1e1e" stroke-width="1.28" fill="none" />
<ellipse cx="375.5" cy="460.0" rx="2.3" ry="1.5" stroke="#1e1e1e" stroke-width="1.28" fill="none" transform="rotate(-15 375.5 460.0)"/>
<line x1="351.6" y1="458.5" x2="405.3" y2="481.3" stroke="#1e1e1e" stroke-width="1.28"/>
<line x1="364.6" y1="459.4" x2="402.4" y2="476.4" stroke="#1e1e1e" stroke-width="1.22"/>
<line x1="364.6" y1="459.4" x2="375.5" y2="454.0" stroke="#1e1e1e" stroke-width="1.15"/>
<line x1="348.6" y1="473.4" x2="384.5" y2="486.3" stroke="#1e1e1e" stroke-width="1.28"/>
<line x1="402.4" y1="476.4" x2="438.2" y2="455.5" stroke="#1e1e1e" stroke-width="1.28"/>
<line x1="405.3" y1="481.3" x2="438.2" y2="461.4" stroke="#1e1e1e" stroke-width="1.22"/>
<line x1="402.4" y1="476.4" x2="406.3" y2="486.3" stroke="#1e1e1e" stroke-width="1.28"/>
<line x1="406.3" y1="486.3" x2="434.2" y2="470.4" stroke="#1e1e1e" stroke-width="1.28"/>
<line x1="438.2" y1="455.5" x2="438.2" y2="468.2" stroke="#1e1e1e" stroke-width="1.15"/>
<path d="M381.8,487.2 Q382.6,483.6 386.4,483.6 Q389.6,484.0 390.2,487.0" stroke="#1e1e1e" stroke-width="1.28" fill="none" />
<line x1="383.7" y1="487.0" x2="383.7" y2="501.6" stroke="#1e1e1e" stroke-width="1.15"/>
<line x1="386.2" y1="487.8" x2="386.2" y2="500.6" stroke="#1e1e1e" stroke-width="1.02"/>
<line x1="390.2" y1="487.0" x2="406.3" y2="486.3" stroke="#1e1e1e" stroke-width="1.15"/>
<path d="M386.2,490.6 L390.2,495.6 L386.2,500.2" stroke="#1e1e1e" stroke-width="0.90" fill="none" />
<line x1="349.6" y1="482.6" x2="381.8" y2="487.2" stroke="#1e1e1e" stroke-width="1.15"/>
<line x1="381.8" y1="487.2" x2="354.8" y2="503.0" stroke="#1e1e1e" stroke-width="1.28"/>
<line x1="383.7" y1="490.2" x2="356.6" y2="506.0" stroke="#1e1e1e" stroke-width="1.15"/>
<ellipse cx="430.2" cy="428.6" rx="2.3" ry="1.5" stroke="#1e1e1e" stroke-width="1.28" fill="none" transform="rotate(-15 430.2 428.6)"/>
<line x1="406.3" y1="427.1" x2="460.0" y2="449.9" stroke="#1e1e1e" stroke-width="1.28"/>
<line x1="419.3" y1="428.0" x2="457.1" y2="445.0" stroke="#1e1e1e" stroke-width="1.22"/>
<line x1="403.3" y1="442.0" x2="439.2" y2="454.9" stroke="#1e1e1e" stroke-width="1.28"/>
<line x1="457.1" y1="445.0" x2="492.9" y2="424.1" stroke="#1e1e1e" stroke-width="1.28"/>
<line x1="460.0" y1="449.9" x2="492.9" y2="430.0" stroke="#1e1e1e" stroke-width="1.22"/>
<line x1="457.1" y1="445.0" x2="461.0" y2="454.9" stroke="#1e1e1e" stroke-width="1.28"/>
<line x1="461.0" y1="454.9" x2="488.9" y2="439.0" stroke="#1e1e1e" stroke-width="1.28"/>
<path d="M436.5,455.8 Q437.3,452.2 441.1,452.2 Q444.3,452.6 444.9,455.6" stroke="#1e1e1e" stroke-width="1.28" fill="none" />
<line x1="438.4" y1="455.6" x2="438.4" y2="470.2" stroke="#1e1e1e" stroke-width="1.15"/>
<line x1="440.9" y1="456.4" x2="440.9" y2="469.2" stroke="#1e1e1e" stroke-width="1.02"/>
<line x1="444.9" y1="455.6" x2="461.0" y2="454.9" stroke="#1e1e1e" stroke-width="1.15"/>
<path d="M440.9,459.2 L444.9,464.2 L440.9,468.8" stroke="#1e1e1e" stroke-width="0.90" fill="none" />
<line x1="404.3" y1="451.2" x2="436.5" y2="455.8" stroke="#1e1e1e" stroke-width="1.15"/>
<line x1="436.5" y1="455.8" x2="409.5" y2="471.6" stroke="#1e1e1e" stroke-width="1.28"/>
<line x1="438.4" y1="458.8" x2="411.3" y2="474.6" stroke="#1e1e1e" stroke-width="1.15"/>
<path d="M123.8,576.8 L90,592.7 L88.4,595.4 L88.4,616 L92,621.3 L109.5,631.6 L110.5,638.8 L116.7,642.9 L187.8,684.5 L187.8,635.8" stroke="#1e1e1e" stroke-width="1.47" fill="none" />
<path d="M192.7,682.6 L187.8,684.5" stroke="#1e1e1e" stroke-width="1.28" fill="none" />
<line x1="192.7" y1="633.0" x2="192.7" y2="682.6" stroke="#1e1e1e" stroke-width="1.28"/>
<path d="M90,592.7 L114.9,600.4 L123.8,576.8" stroke="#1e1e1e" stroke-width="1.28" fill="none" />
<path d="M114.9,600.4 L113.6,596.5 L122.0,579.5 Z" stroke="#1e1e1e" stroke-width="1.02" fill="#333" />
<path d="M187.8,635.8 L172,626.6 Q168.5,621.2 163,620.4 L153,617.8 Q147,612 140.5,606.2 L131,602.2 L126,603.4 L118,603.6 L114.9,600.4" stroke="#1e1e1e" stroke-width="1.28" fill="none" />
<path d="M187.8,635.8 L192.7,633.0 L199.7,628.8 L203.7,623.8 L208.7,620.8" stroke="#1e1e1e" stroke-width="1.28" fill="none" />
<path d="M172,626.6 L178,623.6 L192.7,633.0" stroke="#1e1e1e" stroke-width="1.15" fill="none" />
<path d="M111.8,558.8 Q109.6,560.0 110.2,562.4 L110.6,564.8 L117.2,569.4 L126.5,573.4 L129.4,574.2" stroke="#1e1e1e" stroke-width="1.34" fill="none" />
<path d="M117.4,569.6 L117.4,574.0 L123.8,576.8 M119.6,571.2 Q122.6,570.0 124.4,572.6 L124.4,576.0" stroke="#1e1e1e" stroke-width="1.15" fill="none" />
<path d="M123.8,576.8 L129.4,574.2" stroke="#1e1e1e" stroke-width="1.28" fill="none" />
<ellipse cx="104.3" cy="617.1" rx="6.5" ry="11.3" stroke="#1e1e1e" stroke-width="1.41" fill="none" transform="rotate(-30 104.3 617.1)"/>
<path d="M99.0,623.4 Q97.2,614.8 102.2,610.4 Q105.6,608.2 108.6,609.2" stroke="#1e1e1e" stroke-width="1.15" fill="none" />
<ellipse cx="117.8" cy="608.9" rx="1.5" ry="2.6" stroke="#1e1e1e" stroke-width="1.28" fill="none" transform="rotate(-30 117.8 608.9)"/>
<ellipse cx="117.8" cy="638.4" rx="1.5" ry="2.6" stroke="#1e1e1e" stroke-width="1.28" fill="none" transform="rotate(-30 117.8 638.4)"/>
<ellipse cx="144.5" cy="624.4" rx="3.0" ry="5.2" stroke="#1e1e1e" stroke-width="1.28" fill="none" transform="rotate(-30 144.5 624.4)"/>
<ellipse cx="144.5" cy="624.4" rx="2.0" ry="3.4" stroke="#1e1e1e" stroke-width="2.05" fill="#999" transform="rotate(-30 144.5 624.4)"/>
<ellipse cx="151.1" cy="640.3" rx="4.2" ry="7.2" stroke="#1e1e1e" stroke-width="1.34" fill="none" transform="rotate(-30 151.1 640.3)"/>
<path d="M147.6,644.4 Q146.6,638.4 150.2,635.4" stroke="#1e1e1e" stroke-width="1.09" fill="none" />
<ellipse cx="180.3" cy="656.7" rx="3.6" ry="6.2" stroke="#1e1e1e" stroke-width="1.34" fill="none" transform="rotate(-30 180.3 656.7)"/>
<path d="M177.2,660.2 Q176.4,655.2 179.6,652.6" stroke="#1e1e1e" stroke-width="1.09" fill="none" />
<path d="M174.2,634.6 L174.2,644.0 Q175.4,646.8 178.6,648.0 L183.0,649.6 L183.0,639.6 Q182.0,637.0 179.4,636.0 Z" stroke="#1e1e1e" stroke-width="1.41" fill="#fff" />
<path d="M176.0,637.6 L176.0,643.6 L181.2,646.2 L181.2,640.2 Z M176.0,640.6 L181.2,643.2" stroke="#1e1e1e" stroke-width="1.54" fill="#bbb" />
<path d="M131,585.6 L152.8,596.6 Q155.6,598.8 158.4,600.2 L171.2,604.6 Q176.4,604.2 180.2,607.2 L184.6,609.8" stroke="#1e1e1e" stroke-width="1.28" fill="none" />
<path d="M133.2,589.4 L151.0,598.8 Q154.6,601.4 158.0,602.6 L170.4,607.0" stroke="#1e1e1e" stroke-width="1.15" fill="none" />
<path d="M129.4,574.2 L128.6,578.4 L131,585.6" stroke="#1e1e1e" stroke-width="1.28" fill="none" />
<path d="M131.2,576.0 L130.8,579.6 L133.2,586.6" stroke="#1e1e1e" stroke-width="1.15" fill="none" />
<path d="M120.6,588.2 L126.6,584.8 L131.6,589.6 L133.6,595.2 L129.0,598.2 L124.0,596.6 Z" stroke="#1e1e1e" stroke-width="1.15" fill="none" />
<path d="M123.4,590.6 L129.6,596.6 M126.6,584.8 L128.4,592.2" stroke="#1e1e1e" stroke-width="1.02" fill="none" />
<path d="M139.6,606.4 L147.0,602.6 L165.4,611.6 L163.2,616.6 Z" stroke="#1e1e1e" stroke-width="1.15" fill="none" />
<path d="M143.0,607.0 L160.4,615.2" stroke="#1e1e1e" stroke-width="1.02" fill="none" />
<path d="M452.4,388.5 L467,398.6 Q472,401.6 477.6,405.2 Q480.6,408.6 481.5,411.8 Q483.4,417.4 488.2,419.8 L496.1,422.5 Q502,423.4 506.7,421.1 Q510.6,422.6 512,427.8 Q516.6,430.6 522.7,430.4 L528.5,437.0 L530.1,457 L530.1,486.1 L524,494.1" stroke="#1e1e1e" stroke-width="1.47" fill="none" />
<path d="M528.5,437.0 L522.4,441.6 L521.8,446.6" stroke="#1e1e1e" stroke-width="1.15" fill="none" />
<path d="M530.3,457.7 L518.6,459.7 L516.6,468.7 L520.6,475.6 L521.2,492.5" stroke="#1e1e1e" stroke-width="1.28" fill="none" />
<path d="M523.6,468.7 L523.6,487.8 M518.6,459.7 L520.6,466 L523.6,468.7" stroke="#1e1e1e" stroke-width="1.09" fill="none" />
<ellipse cx="510.6" cy="460.7" rx="3.6" ry="6.2" stroke="#1e1e1e" stroke-width="1.34" fill="none" transform="rotate(30 510.6 460.7)"/>
<path d="M507.4,464.6 Q506.6,459.6 509.8,456.6" stroke="#1e1e1e" stroke-width="1.09" fill="none" />
<ellipse cx="526.2" cy="470.0" rx="1.3" ry="2.2" stroke="#1e1e1e" stroke-width="1.28" fill="none" transform="rotate(30 526.2 470.0)"/>
<ellipse cx="517.6" cy="435.8" rx="2.6" ry="1.8" stroke="#1e1e1e" stroke-width="1.28" fill="none"/>
<ellipse cx="517.6" cy="435.8" rx="1.2" ry="0.8" stroke="#1e1e1e" stroke-width="1.02" fill="none"/>
<path d="M512.6,438.8 Q519.6,437.0 519.6,441.6 L518.6,446.0 L514.6,445.0 Q515.6,441.4 512.6,438.8 Z" stroke="#1e1e1e" stroke-width="1.15" fill="none" />
<path d="M496.4,452.0 Q500.4,446.6 507.6,447.0 L518.4,448.6" stroke="#1e1e1e" stroke-width="1.22" fill="none" />
<ellipse cx="493.8" cy="449.4" rx="4.4" ry="2.5" stroke="#1e1e1e" stroke-width="1.22" fill="none" transform="rotate(-8 493.8 449.4)"/>
<path d="M402.9,417.2 L441.7,393.3 L452.4,388.5" stroke="#1e1e1e" stroke-width="1.47" fill="none" />
<path d="M404.7,418.6 L442.4,395.4 L452.0,391.0 L465.4,400.4" stroke="#1e1e1e" stroke-width="1.15" fill="none" />
<line x1="443.0" y1="396.0" x2="443.0" y2="414.5" stroke="#1e1e1e" stroke-width="1.28"/>
<line x1="446.2" y1="395.0" x2="446.2" y2="414.8" stroke="#1e1e1e" stroke-width="1.15"/>
<path d="M443.0,414.5 Q450,417.4 457.7,415.6" stroke="#1e1e1e" stroke-width="1.22" fill="none" />
<line x1="457.7" y1="405.2" x2="457.7" y2="429.0" stroke="#1e1e1e" stroke-width="1.28"/>
<path d="M457.7,405.2 L465.4,400.4 M457.7,429.0 L472.3,434.4 L472.3,417.1 L477.0,413.6 M472.3,417.1 L465.0,412.4" stroke="#1e1e1e" stroke-width="1.22" fill="none" />
<path d="M472.3,417.1 L473.3,414.7 L488.8,422.9 L488.8,440.2 M472.3,434.4 L488.8,440.2 L499.8,434.7 L499.8,432.9 L488.8,422.9" stroke="#1e1e1e" stroke-width="1.22" fill="none" />
<path d="M452.4,390.9 L468.8,400.4 Q476,405 479.7,411.4 L487.9,421.0" stroke="#1e1e1e" stroke-width="1.15" fill="none" />
<ellipse cx="480.6" cy="410.2" rx="2.0" ry="1.4" stroke="#1e1e1e" stroke-width="1.15" fill="none"/>
<path d="M366.7,411.9 L366.7,397.0 Q367.4,392.6 371.6,391.6 Q376.6,391.2 379.6,394.8 L380.8,398.0 Q388,397.4 395.7,393.3 Q401.5,389.6 403.2,382.9 L403.8,375.9 Q404.6,372.6 407.3,371.2 L414.3,367.1 Q416.4,366.0 418.4,366.8 L426.4,374.7 L427.1,378.2 Q431.6,377.4 435.0,380.6 Q437.6,383.6 437.0,387.5 L439.8,389.8 L449.1,393.3 L452.4,388.5" stroke="#1e1e1e" stroke-width="1.47" fill="#fff" />
<path d="M403.8,377.4 Q408.4,381.6 414.6,380.4 L426.8,376.4" stroke="#1e1e1e" stroke-width="1.22" fill="none" />
<path d="M366.9,399.0 Q369.6,403.4 375.6,402.4 Q379.6,401.2 380.8,398.0" stroke="#1e1e1e" stroke-width="1.22" fill="none" />
<path d="M423.4,384.4 Q423.4,390.4 430.4,391.0 Q436.0,390.6 437.0,387.5" stroke="#1e1e1e" stroke-width="1.22" fill="none" />
<path d="M380.6,400.6 Q390,399.6 397.6,395.6 Q404.4,391.6 405.8,384.0" stroke="#1e1e1e" stroke-width="1.15" fill="none" />
<path d="M367.9,403.8 L383.0,411.2 L384.1,406.5 Q386.4,402.0 391.0,402.4 Q396.6,405.6 402.4,408.4 Q404.8,411.0 403.8,413.6 L402.7,416.8 L399.2,420.2" stroke="#1e1e1e" stroke-width="1.34" fill="none" />
<path d="M383.0,411.2 L399.2,420.2 M366.7,412.6 L395.6,429.6 L399.2,423.0" stroke="#1e1e1e" stroke-width="1.22" fill="none" />
<path d="M384.1,406.5 L384.4,409.8 L402.7,416.8" stroke="#1e1e1e" stroke-width="1.15" fill="none" />
<ellipse cx="372.6" cy="396.6" rx="2.7" ry="1.7" stroke="#1e1e1e" stroke-width="1.28" fill="none"/>
<ellipse cx="372.6" cy="396.6" rx="4.6" ry="2.9" stroke="#1e1e1e" stroke-width="1.02" fill="none"/>
<ellipse cx="413.8" cy="373.0" rx="2.7" ry="1.7" stroke="#1e1e1e" stroke-width="1.28" fill="none"/>
<ellipse cx="413.8" cy="373.0" rx="4.6" ry="2.9" stroke="#1e1e1e" stroke-width="1.02" fill="none"/>
<ellipse cx="429.6" cy="384.4" rx="2.8" ry="1.8" stroke="#1e1e1e" stroke-width="1.28" fill="none"/>
<ellipse cx="429.6" cy="384.4" rx="5.0" ry="3.1" stroke="#1e1e1e" stroke-width="1.02" fill="none"/>
<ellipse cx="388.8" cy="404.9" rx="2.4" ry="1.6" stroke="#1e1e1e" stroke-width="1.28" fill="none"/>
<ellipse cx="388.8" cy="404.9" rx="4.0" ry="2.5" stroke="#1e1e1e" stroke-width="1.02" fill="none"/>
<ellipse cx="398.0" cy="410.3" rx="2.4" ry="1.6" stroke="#1e1e1e" stroke-width="1.28" fill="none"/>
<ellipse cx="398.0" cy="410.3" rx="4.0" ry="2.5" stroke="#1e1e1e" stroke-width="1.02" fill="none"/>
<path d="M344.8,425.2 Q345.2,421.0 351.0,420.0 Q357.6,419.8 360.4,423.6 Q361.2,427.6 356.0,429.4 Q349.6,430.4 345.6,427.6 Z" stroke="#1e1e1e" stroke-width="1.28" fill="#fff" />
<ellipse cx="352.8" cy="424.4" rx="4.2" ry="2.5" stroke="#1e1e1e" stroke-width="1.15" fill="none"/>
<ellipse cx="352.8" cy="424.4" rx="2.4" ry="1.4" stroke="#1e1e1e" stroke-width="1.15" fill="none"/>
<path d="M366.7,411.9 L360.6,415.2 M345.4,432.4 L359.8,436.6" stroke="#1e1e1e" stroke-width="1.22" fill="none" />
<path d="M345.6,428.6 L345.8,432.2 Q350,435.4 356.4,434.0" stroke="#1e1e1e" stroke-width="1.15" fill="none" />
<path d="M112.6,755 L381.5,599.3 L448.7,637.8 L448.9,639.6 L182.0,795.0 L179.4,796.6 L180.6,801.6 L167.4,809.0 L102.7,773.4 L102.7,771.6 Z" stroke="#1e1e1e" stroke-width="1.47" fill="#fff" />
<path d="M102.7,771.6 L166.8,806.6 L178.2,800.4" stroke="#1e1e1e" stroke-width="1.15" fill="none" />
<path d="M182.0,793.0 L447.6,638.2" stroke="#1e1e1e" stroke-width="1.15" fill="none" />
<ellipse cx="156.7" cy="771.3" rx="31.6" ry="18.6" stroke="#1e1e1e" stroke-width="1.66" fill="none"/>
<ellipse cx="156.7" cy="771.3" rx="29.4" ry="17.0" stroke="#1e1e1e" stroke-width="1.28" fill="none"/>
<ellipse cx="117.9" cy="759.5" rx="5.2" ry="3.1" stroke="#1e1e1e" stroke-width="1.92" fill="none"/>
<ellipse cx="117.9" cy="759.5" rx="3.2" ry="1.8" stroke="#1e1e1e" stroke-width="1.02" fill="none"/>
<path d="M140.5,746.6 L150.5,739.4 Q155.1,737.4 157.3,740.4 Q157.9,743.6 154.1,745.2 L145.3,750.6 L142.9,754.6" stroke="#1e1e1e" stroke-width="1.28" fill="none" />
<ellipse cx="153.7" cy="741.8" rx="1.6" ry="1.0" stroke="#1e1e1e" stroke-width="1.02" fill="none"/>
<ellipse cx="136.3" cy="748.8" rx="5.4" ry="3.2" stroke="#1e1e1e" stroke-width="1.92" fill="none"/>
<ellipse cx="136.3" cy="748.8" rx="3.4" ry="1.9" stroke="#1e1e1e" stroke-width="1.02" fill="none"/>
<ellipse cx="130.1" cy="756.1" rx="3.4" ry="2.1" stroke="#1e1e1e" stroke-width="1.22" fill="none" transform="rotate(-15 130.1 756.1)"/>
<ellipse cx="158.5" cy="749.0" rx="1.3" ry="0.9" stroke="#1e1e1e" stroke-width="1.15" fill="none"/>
<ellipse cx="167.8" cy="743.6" rx="1.6" ry="1.0" stroke="#1e1e1e" stroke-width="1.15" fill="none"/>
<ellipse cx="167.8" cy="741.1" rx="1.1" ry="0.8" stroke="#1e1e1e" stroke-width="1.15" fill="none"/>
<ellipse cx="167.8" cy="739.3" rx="0.6" ry="0.5" stroke="#1e1e1e" stroke-width="1.15" fill="none"/>
<ellipse cx="167.2" cy="748.6" rx="3.7" ry="2.1" stroke="#1e1e1e" stroke-width="1.22" fill="none" transform="rotate(-10 167.2 748.6)"/>
<ellipse cx="147.3" cy="792.0" rx="3.6" ry="2.3" stroke="#1e1e1e" stroke-width="1.22" fill="none" transform="rotate(-10 147.3 792.0)"/>
<ellipse cx="157.9" cy="792.4" rx="1.5" ry="1.0" stroke="#1e1e1e" stroke-width="1.15" fill="none"/>
<ellipse cx="185.6" cy="785.0" rx="3.6" ry="2.2" stroke="#1e1e1e" stroke-width="1.22" fill="none" transform="rotate(-10 185.6 785.0)"/>
<ellipse cx="193.5" cy="764.1" rx="3.4" ry="2.0" stroke="#1e1e1e" stroke-width="1.22" fill="none" transform="rotate(-10 193.5 764.1)"/>
<ellipse cx="203.7" cy="744.2" rx="31.6" ry="18.6" stroke="#1e1e1e" stroke-width="1.66" fill="none"/>
<ellipse cx="203.7" cy="744.2" rx="29.4" ry="17.0" stroke="#1e1e1e" stroke-width="1.28" fill="none"/>
<ellipse cx="164.9" cy="732.4" rx="5.2" ry="3.1" stroke="#1e1e1e" stroke-width="1.92" fill="none"/>
<ellipse cx="164.9" cy="732.4" rx="3.2" ry="1.8" stroke="#1e1e1e" stroke-width="1.02" fill="none"/>
<path d="M187.5,719.5 L197.5,712.3 Q202.1,710.3 204.3,713.3 Q204.9,716.5 201.1,718.1 L192.3,723.5 L189.9,727.5" stroke="#1e1e1e" stroke-width="1.28" fill="none" />
<ellipse cx="200.7" cy="714.7" rx="1.6" ry="1.0" stroke="#1e1e1e" stroke-width="1.02" fill="none"/>
<ellipse cx="183.3" cy="721.7" rx="5.4" ry="3.2" stroke="#1e1e1e" stroke-width="1.92" fill="none"/>
<ellipse cx="183.3" cy="721.7" rx="3.4" ry="1.9" stroke="#1e1e1e" stroke-width="1.02" fill="none"/>
<ellipse cx="177.1" cy="729.0" rx="3.4" ry="2.1" stroke="#1e1e1e" stroke-width="1.22" fill="none" transform="rotate(-15 177.1 729.0)"/>
<ellipse cx="205.5" cy="721.9" rx="1.3" ry="0.9" stroke="#1e1e1e" stroke-width="1.15" fill="none"/>
<ellipse cx="214.8" cy="716.5" rx="1.6" ry="1.0" stroke="#1e1e1e" stroke-width="1.15" fill="none"/>
<ellipse cx="214.8" cy="714.0" rx="1.1" ry="0.8" stroke="#1e1e1e" stroke-width="1.15" fill="none"/>
<ellipse cx="214.8" cy="712.2" rx="0.6" ry="0.5" stroke="#1e1e1e" stroke-width="1.15" fill="none"/>
<ellipse cx="214.2" cy="721.5" rx="3.7" ry="2.1" stroke="#1e1e1e" stroke-width="1.22" fill="none" transform="rotate(-10 214.2 721.5)"/>
<ellipse cx="194.3" cy="764.9" rx="3.6" ry="2.3" stroke="#1e1e1e" stroke-width="1.22" fill="none" transform="rotate(-10 194.3 764.9)"/>
<ellipse cx="204.9" cy="765.3" rx="1.5" ry="1.0" stroke="#1e1e1e" stroke-width="1.15" fill="none"/>
<ellipse cx="196.3" cy="778.2" rx="4.8" ry="2.2" stroke="#1e1e1e" stroke-width="1.22" fill="none" transform="rotate(-28 196.3 778.2)"/>
<ellipse cx="196.3" cy="778.2" rx="3.0" ry="1.0" stroke="#1e1e1e" stroke-width="0.90" fill="none" transform="rotate(-28 196.3 778.2)"/>
<ellipse cx="186.8" cy="784.8" rx="3.3" ry="2.0" stroke="#1e1e1e" stroke-width="1.22" fill="none" transform="rotate(-10 186.8 784.8)"/>
<ellipse cx="232.6" cy="757.9" rx="3.6" ry="2.2" stroke="#1e1e1e" stroke-width="1.22" fill="none" transform="rotate(-10 232.6 757.9)"/>
<ellipse cx="240.5" cy="737.0" rx="3.4" ry="2.0" stroke="#1e1e1e" stroke-width="1.22" fill="none" transform="rotate(-10 240.5 737.0)"/>
<ellipse cx="250.6" cy="717.1" rx="31.6" ry="18.6" stroke="#1e1e1e" stroke-width="1.66" fill="none"/>
<ellipse cx="250.6" cy="717.1" rx="29.4" ry="17.0" stroke="#1e1e1e" stroke-width="1.28" fill="none"/>
<ellipse cx="211.8" cy="705.3" rx="5.2" ry="3.1" stroke="#1e1e1e" stroke-width="1.92" fill="none"/>
<ellipse cx="211.8" cy="705.3" rx="3.2" ry="1.8" stroke="#1e1e1e" stroke-width="1.02" fill="none"/>
<path d="M234.4,692.4 L244.4,685.2 Q249.0,683.2 251.2,686.2 Q251.8,689.4 248.0,691.0 L239.2,696.4 L236.8,700.4" stroke="#1e1e1e" stroke-width="1.28" fill="none" />
<ellipse cx="247.6" cy="687.6" rx="1.6" ry="1.0" stroke="#1e1e1e" stroke-width="1.02" fill="none"/>
<ellipse cx="230.2" cy="694.6" rx="5.4" ry="3.2" stroke="#1e1e1e" stroke-width="1.92" fill="none"/>
<ellipse cx="230.2" cy="694.6" rx="3.4" ry="1.9" stroke="#1e1e1e" stroke-width="1.02" fill="none"/>
<ellipse cx="224.0" cy="701.9" rx="3.4" ry="2.1" stroke="#1e1e1e" stroke-width="1.22" fill="none" transform="rotate(-15 224.0 701.9)"/>
<ellipse cx="252.4" cy="694.8" rx="1.3" ry="0.9" stroke="#1e1e1e" stroke-width="1.15" fill="none"/>
<ellipse cx="261.7" cy="689.4" rx="1.6" ry="1.0" stroke="#1e1e1e" stroke-width="1.15" fill="none"/>
<ellipse cx="261.7" cy="686.9" rx="1.1" ry="0.8" stroke="#1e1e1e" stroke-width="1.15" fill="none"/>
<ellipse cx="261.7" cy="685.1" rx="0.6" ry="0.5" stroke="#1e1e1e" stroke-width="1.15" fill="none"/>
<ellipse cx="261.1" cy="694.4" rx="3.7" ry="2.1" stroke="#1e1e1e" stroke-width="1.22" fill="none" transform="rotate(-10 261.1 694.4)"/>
<ellipse cx="241.2" cy="737.8" rx="3.6" ry="2.3" stroke="#1e1e1e" stroke-width="1.22" fill="none" transform="rotate(-10 241.2 737.8)"/>
<ellipse cx="251.8" cy="738.2" rx="1.5" ry="1.0" stroke="#1e1e1e" stroke-width="1.15" fill="none"/>
<ellipse cx="243.2" cy="751.1" rx="4.8" ry="2.2" stroke="#1e1e1e" stroke-width="1.22" fill="none" transform="rotate(-28 243.2 751.1)"/>
<ellipse cx="243.2" cy="751.1" rx="3.0" ry="1.0" stroke="#1e1e1e" stroke-width="0.90" fill="none" transform="rotate(-28 243.2 751.1)"/>
<ellipse cx="233.7" cy="757.7" rx="3.3" ry="2.0" stroke="#1e1e1e" stroke-width="1.22" fill="none" transform="rotate(-10 233.7 757.7)"/>
<ellipse cx="279.5" cy="730.8" rx="3.6" ry="2.2" stroke="#1e1e1e" stroke-width="1.22" fill="none" transform="rotate(-10 279.5 730.8)"/>
<ellipse cx="287.4" cy="709.9" rx="3.4" ry="2.0" stroke="#1e1e1e" stroke-width="1.22" fill="none" transform="rotate(-10 287.4 709.9)"/>
<ellipse cx="297.6" cy="690.0" rx="31.6" ry="18.6" stroke="#1e1e1e" stroke-width="1.66" fill="none"/>
<ellipse cx="297.6" cy="690.0" rx="29.4" ry="17.0" stroke="#1e1e1e" stroke-width="1.28" fill="none"/>
<ellipse cx="258.8" cy="678.2" rx="5.2" ry="3.1" stroke="#1e1e1e" stroke-width="1.92" fill="none"/>
<ellipse cx="258.8" cy="678.2" rx="3.2" ry="1.8" stroke="#1e1e1e" stroke-width="1.02" fill="none"/>
<path d="M281.4,665.3 L291.4,658.1 Q296.0,656.1 298.2,659.1 Q298.8,662.3 295.0,663.9 L286.2,669.3 L283.8,673.3" stroke="#1e1e1e" stroke-width="1.28" fill="none" />
<ellipse cx="294.6" cy="660.5" rx="1.6" ry="1.0" stroke="#1e1e1e" stroke-width="1.02" fill="none"/>
<ellipse cx="277.2" cy="667.5" rx="5.4" ry="3.2" stroke="#1e1e1e" stroke-width="1.92" fill="none"/>
<ellipse cx="277.2" cy="667.5" rx="3.4" ry="1.9" stroke="#1e1e1e" stroke-width="1.02" fill="none"/>
<ellipse cx="271.0" cy="674.8" rx="3.4" ry="2.1" stroke="#1e1e1e" stroke-width="1.22" fill="none" transform="rotate(-15 271.0 674.8)"/>
<ellipse cx="299.4" cy="667.7" rx="1.3" ry="0.9" stroke="#1e1e1e" stroke-width="1.15" fill="none"/>
<ellipse cx="308.7" cy="662.3" rx="1.6" ry="1.0" stroke="#1e1e1e" stroke-width="1.15" fill="none"/>
<ellipse cx="308.7" cy="659.8" rx="1.1" ry="0.8" stroke="#1e1e1e" stroke-width="1.15" fill="none"/>
<ellipse cx="308.7" cy="658.0" rx="0.6" ry="0.5" stroke="#1e1e1e" stroke-width="1.15" fill="none"/>
<ellipse cx="308.1" cy="667.3" rx="3.7" ry="2.1" stroke="#1e1e1e" stroke-width="1.22" fill="none" transform="rotate(-10 308.1 667.3)"/>
<ellipse cx="288.2" cy="710.7" rx="3.6" ry="2.3" stroke="#1e1e1e" stroke-width="1.22" fill="none" transform="rotate(-10 288.2 710.7)"/>
<ellipse cx="298.8" cy="711.1" rx="1.5" ry="1.0" stroke="#1e1e1e" stroke-width="1.15" fill="none"/>
<ellipse cx="290.2" cy="724.0" rx="4.8" ry="2.2" stroke="#1e1e1e" stroke-width="1.22" fill="none" transform="rotate(-28 290.2 724.0)"/>
<ellipse cx="290.2" cy="724.0" rx="3.0" ry="1.0" stroke="#1e1e1e" stroke-width="0.90" fill="none" transform="rotate(-28 290.2 724.0)"/>
<ellipse cx="280.7" cy="730.6" rx="3.3" ry="2.0" stroke="#1e1e1e" stroke-width="1.22" fill="none" transform="rotate(-10 280.7 730.6)"/>
<ellipse cx="326.5" cy="703.7" rx="3.6" ry="2.2" stroke="#1e1e1e" stroke-width="1.22" fill="none" transform="rotate(-10 326.5 703.7)"/>
<ellipse cx="334.4" cy="682.8" rx="3.4" ry="2.0" stroke="#1e1e1e" stroke-width="1.22" fill="none" transform="rotate(-10 334.4 682.8)"/>
<ellipse cx="344.5" cy="662.9" rx="31.6" ry="18.6" stroke="#1e1e1e" stroke-width="1.66" fill="none"/>
<ellipse cx="344.5" cy="662.9" rx="29.4" ry="17.0" stroke="#1e1e1e" stroke-width="1.28" fill="none"/>
<ellipse cx="305.7" cy="651.1" rx="5.2" ry="3.1" stroke="#1e1e1e" stroke-width="1.92" fill="none"/>
<ellipse cx="305.7" cy="651.1" rx="3.2" ry="1.8" stroke="#1e1e1e" stroke-width="1.02" fill="none"/>
<path d="M328.3,638.2 L338.3,631.0 Q342.9,629.0 345.1,632.0 Q345.7,635.2 341.9,636.8 L333.1,642.2 L330.7,646.2" stroke="#1e1e1e" stroke-width="1.28" fill="none" />
<ellipse cx="341.5" cy="633.4" rx="1.6" ry="1.0" stroke="#1e1e1e" stroke-width="1.02" fill="none"/>
<ellipse cx="324.1" cy="640.4" rx="5.4" ry="3.2" stroke="#1e1e1e" stroke-width="1.92" fill="none"/>
<ellipse cx="324.1" cy="640.4" rx="3.4" ry="1.9" stroke="#1e1e1e" stroke-width="1.02" fill="none"/>
<ellipse cx="317.9" cy="647.7" rx="3.4" ry="2.1" stroke="#1e1e1e" stroke-width="1.22" fill="none" transform="rotate(-15 317.9 647.7)"/>
<ellipse cx="346.3" cy="640.6" rx="1.3" ry="0.9" stroke="#1e1e1e" stroke-width="1.15" fill="none"/>
<ellipse cx="355.6" cy="635.2" rx="1.6" ry="1.0" stroke="#1e1e1e" stroke-width="1.15" fill="none"/>
<ellipse cx="355.6" cy="632.7" rx="1.1" ry="0.8" stroke="#1e1e1e" stroke-width="1.15" fill="none"/>
<ellipse cx="355.6" cy="630.9" rx="0.6" ry="0.5" stroke="#1e1e1e" stroke-width="1.15" fill="none"/>
<ellipse cx="355.0" cy="640.2" rx="3.7" ry="2.1" stroke="#1e1e1e" stroke-width="1.22" fill="none" transform="rotate(-10 355.0 640.2)"/>
<ellipse cx="335.1" cy="683.6" rx="3.6" ry="2.3" stroke="#1e1e1e" stroke-width="1.22" fill="none" transform="rotate(-10 335.1 683.6)"/>
<ellipse cx="345.7" cy="684.0" rx="1.5" ry="1.0" stroke="#1e1e1e" stroke-width="1.15" fill="none"/>
<ellipse cx="337.1" cy="696.9" rx="4.8" ry="2.2" stroke="#1e1e1e" stroke-width="1.22" fill="none" transform="rotate(-28 337.1 696.9)"/>
<ellipse cx="337.1" cy="696.9" rx="3.0" ry="1.0" stroke="#1e1e1e" stroke-width="0.90" fill="none" transform="rotate(-28 337.1 696.9)"/>
<ellipse cx="327.6" cy="703.5" rx="3.3" ry="2.0" stroke="#1e1e1e" stroke-width="1.22" fill="none" transform="rotate(-10 327.6 703.5)"/>
<ellipse cx="373.4" cy="676.6" rx="3.6" ry="2.2" stroke="#1e1e1e" stroke-width="1.22" fill="none" transform="rotate(-10 373.4 676.6)"/>
<ellipse cx="381.3" cy="655.7" rx="3.4" ry="2.0" stroke="#1e1e1e" stroke-width="1.22" fill="none" transform="rotate(-10 381.3 655.7)"/>
<ellipse cx="391.5" cy="635.8" rx="31.6" ry="18.6" stroke="#1e1e1e" stroke-width="1.66" fill="none"/>
<ellipse cx="391.5" cy="635.8" rx="29.4" ry="17.0" stroke="#1e1e1e" stroke-width="1.28" fill="none"/>
<ellipse cx="352.7" cy="624.0" rx="5.2" ry="3.1" stroke="#1e1e1e" stroke-width="1.92" fill="none"/>
<ellipse cx="352.7" cy="624.0" rx="3.2" ry="1.8" stroke="#1e1e1e" stroke-width="1.02" fill="none"/>
<ellipse cx="371.1" cy="613.3" rx="5.4" ry="3.2" stroke="#1e1e1e" stroke-width="1.92" fill="none"/>
<ellipse cx="371.1" cy="613.3" rx="3.4" ry="1.9" stroke="#1e1e1e" stroke-width="1.02" fill="none"/>
<ellipse cx="364.9" cy="620.6" rx="3.4" ry="2.1" stroke="#1e1e1e" stroke-width="1.22" fill="none" transform="rotate(-15 364.9 620.6)"/>
<ellipse cx="393.3" cy="613.5" rx="1.3" ry="0.9" stroke="#1e1e1e" stroke-width="1.15" fill="none"/>
<ellipse cx="382.1" cy="656.5" rx="3.6" ry="2.3" stroke="#1e1e1e" stroke-width="1.22" fill="none" transform="rotate(-10 382.1 656.5)"/>
<ellipse cx="392.7" cy="656.9" rx="1.5" ry="1.0" stroke="#1e1e1e" stroke-width="1.15" fill="none"/>
<ellipse cx="384.1" cy="669.8" rx="4.8" ry="2.2" stroke="#1e1e1e" stroke-width="1.22" fill="none" transform="rotate(-28 384.1 669.8)"/>
<ellipse cx="384.1" cy="669.8" rx="3.0" ry="1.0" stroke="#1e1e1e" stroke-width="0.90" fill="none" transform="rotate(-28 384.1 669.8)"/>
<ellipse cx="374.6" cy="676.4" rx="3.3" ry="2.0" stroke="#1e1e1e" stroke-width="1.22" fill="none" transform="rotate(-10 374.6 676.4)"/>
<ellipse cx="420.4" cy="649.5" rx="3.6" ry="2.2" stroke="#1e1e1e" stroke-width="1.22" fill="none" transform="rotate(-10 420.4 649.5)"/>
<ellipse cx="111.8" cy="767.2" rx="2.8" ry="1.7" stroke="#1e1e1e" stroke-width="1.15" fill="none" transform="rotate(-20 111.8 767.2)"/>
<ellipse cx="121.8" cy="767.0" rx="1.2" ry="0.9" stroke="#1e1e1e" stroke-width="1.15" fill="none"/>
<ellipse cx="119.2" cy="776.4" rx="3.2" ry="2.0" stroke="#1e1e1e" stroke-width="1.22" fill="none" transform="rotate(-10 119.2 776.4)"/>
<ellipse cx="121.4" cy="772.0" rx="1.0" ry="0.8" stroke="#1e1e1e" stroke-width="1.15" fill="none"/>
<ellipse cx="390.8" cy="608.0" rx="1.6" ry="1.0" stroke="#1e1e1e" stroke-width="1.15" fill="none"/>
<ellipse cx="392.2" cy="613.3" rx="1.2" ry="0.8" stroke="#1e1e1e" stroke-width="1.15" fill="none"/>
<ellipse cx="400.1" cy="614.6" rx="3.4" ry="2.0" stroke="#1e1e1e" stroke-width="1.22" fill="none" transform="rotate(-10 400.1 614.6)"/>
<ellipse cx="424.0" cy="629.8" rx="2.4" ry="1.6" stroke="#1e1e1e" stroke-width="1.15" fill="none"/>
<ellipse cx="430.1" cy="631.3" rx="3.4" ry="2.0" stroke="#1e1e1e" stroke-width="1.22" fill="none" transform="rotate(-10 430.1 631.3)"/>
<ellipse cx="433.3" cy="643.1" rx="4.6" ry="2.0" stroke="#1e1e1e" stroke-width="1.22" fill="none" transform="rotate(-28 433.3 643.1)"/>
</svg>
</body></html>
